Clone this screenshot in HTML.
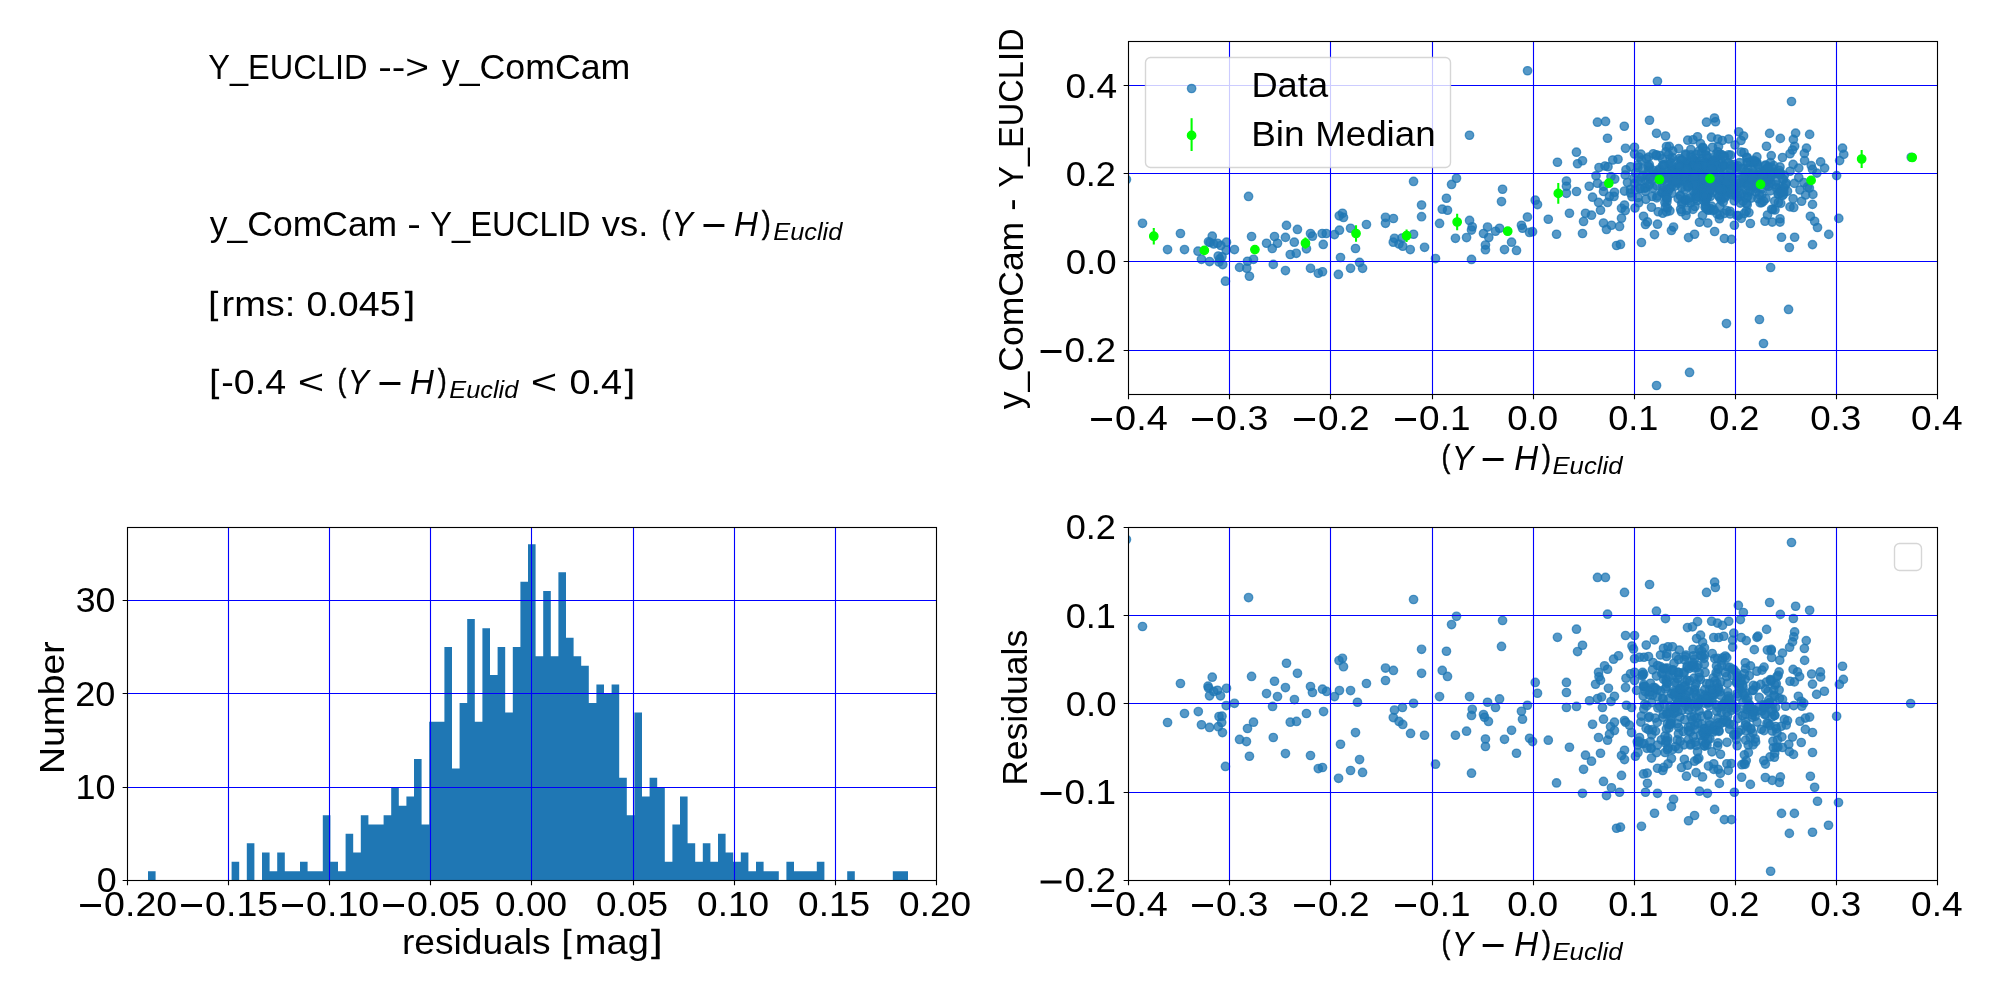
<!DOCTYPE html><html><head><meta charset="utf-8"><title>figure</title><style>html,body{margin:0;padding:0;background:#fff}svg{display:block;will-change:transform}text{font-family:"Liberation Sans",sans-serif;fill:#000}</style></head><body>
<svg width="2000" height="1000" viewBox="0 0 2000 1000">
<rect width="2000" height="1000" fill="#fff"/>
<defs>
<clipPath id="ctr"><rect x="1128.5" y="41.5" width="809" height="353"/></clipPath>
<clipPath id="cbl"><rect x="127.5" y="527.5" width="809" height="353"/></clipPath>
<clipPath id="cbr"><rect x="1128.5" y="527.5" width="809" height="353"/></clipPath>
</defs>
<g clip-path="url(#ctr)" fill="#1f77b4" fill-opacity="0.75" stroke="#1f77b4" stroke-opacity="0.75" stroke-width="1.39">
<circle cx="1126.45" cy="179.5" r="4.17"/><circle cx="1142.5" cy="223.3" r="4.17"/><circle cx="1180.45" cy="233.5" r="4.17"/><circle cx="1167.55" cy="249.55" r="4.17"/><circle cx="1184.5" cy="249.55" r="4.17"/><circle cx="1198" cy="251.2" r="4.17"/><circle cx="1201.45" cy="259.3" r="4.17"/><circle cx="1209.55" cy="261.55" r="4.17"/><circle cx="1212.25" cy="236.2" r="4.17"/><circle cx="1208.5" cy="241.75" r="4.17"/><circle cx="1210" cy="242.5" r="4.17"/><circle cx="1213.75" cy="244" r="4.17"/><circle cx="1217.5" cy="243.25" r="4.17"/><circle cx="1220.8" cy="245.5" r="4.17"/><circle cx="1226.5" cy="242.2" r="4.17"/><circle cx="1226.2" cy="250.3" r="4.17"/><circle cx="1218.25" cy="256" r="4.17"/><circle cx="1222" cy="256.75" r="4.17"/><circle cx="1219.75" cy="259" r="4.17"/><circle cx="1219" cy="262" r="4.17"/><circle cx="1222.75" cy="264.55" r="4.17"/><circle cx="1225.45" cy="281.2" r="4.17"/><circle cx="1234.45" cy="249.55" r="4.17"/><circle cx="1239.55" cy="267.4" r="4.17"/><circle cx="1246.75" cy="268.3" r="4.17"/><circle cx="1247.5" cy="261.25" r="4.17"/><circle cx="1253.5" cy="259.3" r="4.17"/><circle cx="1249.45" cy="276.25" r="4.17"/><circle cx="1248.55" cy="196.45" r="4.17"/><circle cx="1251.55" cy="236.5" r="4.17"/><circle cx="1266.55" cy="243.25" r="4.17"/><circle cx="1272.25" cy="248.5" r="4.17"/><circle cx="1274.5" cy="236.5" r="4.17"/><circle cx="1277.5" cy="243.25" r="4.17"/><circle cx="1273.3" cy="264.4" r="4.17"/><circle cx="1285.45" cy="237.4" r="4.17"/><circle cx="1286.5" cy="225.4" r="4.17"/><circle cx="1285.45" cy="270.55" r="4.17"/><circle cx="1290.25" cy="254.5" r="4.17"/><circle cx="1294.3" cy="242.2" r="4.17"/><circle cx="1296.25" cy="253.3" r="4.17"/><circle cx="1297.45" cy="229.45" r="4.17"/><circle cx="1306.45" cy="248.8" r="4.17"/><circle cx="1310.5" cy="233.5" r="4.17"/><circle cx="1312.45" cy="236.2" r="4.17"/><circle cx="1310.5" cy="268.3" r="4.17"/><circle cx="1318.3" cy="273.25" r="4.17"/><circle cx="1322.5" cy="271.75" r="4.17"/><circle cx="1322.2" cy="233.5" r="4.17"/><circle cx="1326.25" cy="233.5" r="4.17"/><circle cx="1323.25" cy="244.45" r="4.17"/><circle cx="1334.5" cy="234.55" r="4.17"/><circle cx="1339.45" cy="230.2" r="4.17"/><circle cx="1339.3" cy="215.8" r="4.17"/><circle cx="1342.45" cy="213.25" r="4.17"/><circle cx="1343.5" cy="217.45" r="4.17"/><circle cx="1340.5" cy="257.5" r="4.17"/><circle cx="1338.4" cy="274.45" r="4.17"/><circle cx="1350.55" cy="228.25" r="4.17"/><circle cx="1350.55" cy="268.3" r="4.17"/><circle cx="1355.5" cy="248.5" r="4.17"/><circle cx="1359.55" cy="262.45" r="4.17"/><circle cx="1362.55" cy="268.3" r="4.17"/><circle cx="1366.45" cy="224.5" r="4.17"/><circle cx="1385.5" cy="217.3" r="4.17"/><circle cx="1385.5" cy="223.3" r="4.17"/><circle cx="1393.45" cy="218.5" r="4.17"/><circle cx="1394.5" cy="238.3" r="4.17"/><circle cx="1393.3" cy="242.2" r="4.17"/><circle cx="1399" cy="244" r="4.17"/><circle cx="1402.75" cy="246.25" r="4.17"/><circle cx="1402" cy="238" r="4.17"/><circle cx="1410.25" cy="249.55" r="4.17"/><circle cx="1413.55" cy="234.25" r="4.17"/><circle cx="1413.55" cy="181.45" r="4.17"/><circle cx="1421.55" cy="205" r="4.17"/><circle cx="1421.55" cy="216.7" r="4.17"/><circle cx="1424.55" cy="247.3" r="4.17"/><circle cx="1435.5" cy="258.55" r="4.17"/><circle cx="1439.55" cy="223.45" r="4.17"/><circle cx="1442.25" cy="209.2" r="4.17"/><circle cx="1447.5" cy="210.25" r="4.17"/><circle cx="1446.45" cy="198.25" r="4.17"/><circle cx="1451.55" cy="184.45" r="4.17"/><circle cx="1456.5" cy="178.3" r="4.17"/><circle cx="1455.45" cy="238.3" r="4.17"/><circle cx="1466.55" cy="237.55" r="4.17"/><circle cx="1469.55" cy="220.45" r="4.17"/><circle cx="1472.25" cy="226.75" r="4.17"/><circle cx="1471.5" cy="230.05" r="4.17"/><circle cx="1471.5" cy="259.45" r="4.17"/><circle cx="1483.5" cy="233.5" r="4.17"/><circle cx="1487.55" cy="227.05" r="4.17"/><circle cx="1488.75" cy="237.55" r="4.17"/><circle cx="1485.45" cy="245.05" r="4.17"/><circle cx="1485.45" cy="249.7" r="4.17"/><circle cx="1495.5" cy="231.25" r="4.17"/><circle cx="1499.55" cy="228.25" r="4.17"/><circle cx="1501.5" cy="201.55" r="4.17"/><circle cx="1502.55" cy="189.25" r="4.17"/><circle cx="1504.5" cy="249.55" r="4.17"/><circle cx="1511.55" cy="242.2" r="4.17"/><circle cx="1516.5" cy="250.45" r="4.17"/><circle cx="1521.45" cy="225.25" r="4.17"/><circle cx="1522.5" cy="228.25" r="4.17"/><circle cx="1527.45" cy="217" r="4.17"/><circle cx="1529.55" cy="232.45" r="4.17"/><circle cx="1532.55" cy="231.7" r="4.17"/><circle cx="1535.25" cy="200.2" r="4.17"/><circle cx="1537.5" cy="204.55" r="4.17"/><circle cx="1548.3" cy="219.25" r="4.17"/><circle cx="1556.55" cy="234.25" r="4.17"/><circle cx="1566.45" cy="181" r="4.17"/><circle cx="1566.45" cy="186.25" r="4.17"/><circle cx="1566.45" cy="193.3" r="4.17"/><circle cx="1569.45" cy="213.25" r="4.17"/><circle cx="1576.5" cy="191.5" r="4.17"/><circle cx="1582.5" cy="233.5" r="4.17"/><circle cx="1583.55" cy="221.5" r="4.17"/><circle cx="1585.5" cy="213.25" r="4.17"/><circle cx="1591.5" cy="215.2" r="4.17"/><circle cx="1589.25" cy="186.25" r="4.17"/><circle cx="1592.55" cy="197.2" r="4.17"/><circle cx="1598.55" cy="202.45" r="4.17"/><circle cx="1600.5" cy="210.25" r="4.17"/><circle cx="1603.5" cy="223" r="4.17"/><circle cx="1606.5" cy="229.45" r="4.17"/><circle cx="1611.45" cy="225.25" r="4.17"/><circle cx="1619.55" cy="226.45" r="4.17"/><circle cx="1621.5" cy="218.2" r="4.17"/><circle cx="1616.55" cy="245.5" r="4.17"/><circle cx="1620.45" cy="244.45" r="4.17"/><circle cx="1641.45" cy="242.5" r="4.17"/><circle cx="1643.55" cy="216.25" r="4.17"/><circle cx="1645.5" cy="224.5" r="4.17"/><circle cx="1647.45" cy="221.95" r="4.17"/><circle cx="1654.5" cy="234.55" r="4.17"/><circle cx="1657.5" cy="224.2" r="4.17"/><circle cx="1671.45" cy="230.5" r="4.17"/><circle cx="1673.55" cy="227.05" r="4.17"/><circle cx="1688.55" cy="237.55" r="4.17"/><circle cx="1694.55" cy="234.25" r="4.17"/><circle cx="1699.5" cy="222.25" r="4.17"/><circle cx="1702.5" cy="215.5" r="4.17"/><circle cx="1707.75" cy="223" r="4.17"/><circle cx="1708.5" cy="210.25" r="4.17"/><circle cx="1557.45" cy="162.25" r="4.17"/><circle cx="1577.55" cy="163.75" r="4.17"/><circle cx="1582.5" cy="160.75" r="4.17"/><circle cx="1599" cy="167.5" r="4.17"/><circle cx="1605" cy="166" r="4.17"/><circle cx="1608" cy="166.75" r="4.17"/><circle cx="1596" cy="175.75" r="4.17"/><circle cx="1597.5" cy="183.25" r="4.17"/><circle cx="1603.5" cy="186.25" r="4.17"/><circle cx="1603.5" cy="191.5" r="4.17"/><circle cx="1611" cy="176.5" r="4.17"/><circle cx="1614.75" cy="179.05" r="4.17"/><circle cx="1614.45" cy="192.25" r="4.17"/><circle cx="1609.5" cy="196.45" r="4.17"/><circle cx="1614" cy="196.45" r="4.17"/><circle cx="1607.55" cy="202.45" r="4.17"/><circle cx="1621.5" cy="208.3" r="4.17"/><circle cx="1624.5" cy="205" r="4.17"/><circle cx="1625.25" cy="210.55" r="4.17"/><circle cx="1626" cy="169.75" r="4.17"/><circle cx="1625.25" cy="175" r="4.17"/><circle cx="1627.5" cy="182.5" r="4.17"/><circle cx="1624.5" cy="191.05" r="4.17"/><circle cx="1630.5" cy="189.25" r="4.17"/><circle cx="1630.5" cy="193" r="4.17"/><circle cx="1632" cy="196.75" r="4.17"/><circle cx="1630.5" cy="166.75" r="4.17"/><circle cx="1635" cy="208" r="4.17"/><circle cx="1638" cy="197.5" r="4.17"/><circle cx="1638.75" cy="202.75" r="4.17"/><circle cx="1651.5" cy="207.25" r="4.17"/><circle cx="1658.25" cy="211.75" r="4.17"/><circle cx="1662.75" cy="213.25" r="4.17"/><circle cx="1666.5" cy="211.75" r="4.17"/><circle cx="1681.5" cy="211.75" r="4.17"/><circle cx="1686.75" cy="210.25" r="4.17"/><circle cx="1686" cy="215.5" r="4.17"/><circle cx="1695" cy="206.5" r="4.17"/><circle cx="1714.62" cy="231.5" r="4.17"/><circle cx="1719.38" cy="218.75" r="4.17"/><circle cx="1724.38" cy="238.5" r="4.17"/><circle cx="1731.5" cy="239.38" r="4.17"/><circle cx="1734.38" cy="225.25" r="4.17"/><circle cx="1741.25" cy="218.38" r="4.17"/><circle cx="1750.38" cy="223.5" r="4.17"/><circle cx="1765" cy="221.25" r="4.17"/><circle cx="1772.25" cy="222.12" r="4.17"/><circle cx="1780" cy="218.75" r="4.17"/><circle cx="1780" cy="222.12" r="4.17"/><circle cx="1781.5" cy="237.25" r="4.17"/><circle cx="1789.38" cy="247.5" r="4.17"/><circle cx="1794.62" cy="237.25" r="4.17"/><circle cx="1770.62" cy="267.5" r="4.17"/><circle cx="1812.5" cy="244.62" r="4.17"/><circle cx="1828.75" cy="234.38" r="4.17"/><circle cx="1817.5" cy="227.5" r="4.17"/><circle cx="1814.62" cy="221.25" r="4.17"/><circle cx="1810.38" cy="216.25" r="4.17"/><circle cx="1838.75" cy="218.38" r="4.17"/><circle cx="1812.5" cy="204.38" r="4.17"/><circle cx="1801.62" cy="201.25" r="4.17"/><circle cx="1812.88" cy="194.38" r="4.17"/><circle cx="1805.62" cy="195" r="4.17"/><circle cx="1800" cy="190" r="4.17"/><circle cx="1793.75" cy="207.5" r="4.17"/><circle cx="1790" cy="206.88" r="4.17"/><circle cx="1793.12" cy="198.75" r="4.17"/><circle cx="1809.38" cy="188.12" r="4.17"/><circle cx="1794.38" cy="183.38" r="4.17"/><circle cx="1836.62" cy="175.62" r="4.17"/><circle cx="1839.62" cy="160.62" r="4.17"/><circle cx="1816.88" cy="173.12" r="4.17"/><circle cx="1824.62" cy="168.12" r="4.17"/><circle cx="1820.62" cy="161.88" r="4.17"/><circle cx="1811.25" cy="165.62" r="4.17"/><circle cx="1812.5" cy="169.38" r="4.17"/><circle cx="1804.62" cy="160.62" r="4.17"/><circle cx="1798.75" cy="168.12" r="4.17"/><circle cx="1793.12" cy="164.38" r="4.17"/><circle cx="1790" cy="171.25" r="4.17"/><circle cx="1780" cy="166.88" r="4.17"/><circle cx="1782.5" cy="179.38" r="4.17"/><circle cx="1786.25" cy="183.12" r="4.17"/><circle cx="1787.5" cy="191.25" r="4.17"/><circle cx="1782.5" cy="195.62" r="4.17"/><circle cx="1775" cy="210" r="4.17"/><circle cx="1767.5" cy="215" r="4.17"/><circle cx="1746.25" cy="211.25" r="4.17"/><circle cx="1730" cy="211.25" r="4.17"/><circle cx="1720" cy="215" r="4.17"/><circle cx="1712.5" cy="210.62" r="4.17"/><circle cx="1798.75" cy="177.5" r="4.17"/><circle cx="1803.75" cy="182.5" r="4.17"/><circle cx="1807.5" cy="186.88" r="4.17"/><circle cx="1527.55" cy="70.75" r="4.17"/><circle cx="1657.45" cy="81.25" r="4.17"/><circle cx="1469.5" cy="135.25" r="4.17"/><circle cx="1597.45" cy="122.2" r="4.17"/><circle cx="1605.55" cy="121.45" r="4.17"/><circle cx="1624.3" cy="126.25" r="4.17"/><circle cx="1607.5" cy="138.25" r="4.17"/><circle cx="1649.5" cy="120.25" r="4.17"/><circle cx="1656.55" cy="133.3" r="4.17"/><circle cx="1665.55" cy="136" r="4.17"/><circle cx="1706.5" cy="122.2" r="4.17"/><circle cx="1714.45" cy="118" r="4.17"/><circle cx="1715.5" cy="121.75" r="4.17"/><circle cx="1625.5" cy="148.3" r="4.17"/><circle cx="1634.5" cy="147.25" r="4.17"/><circle cx="1576.45" cy="152.2" r="4.17"/><circle cx="1687.75" cy="140.2" r="4.17"/><circle cx="1693" cy="139.75" r="4.17"/><circle cx="1697.5" cy="136.75" r="4.17"/><circle cx="1700.5" cy="143.5" r="4.17"/><circle cx="1702.75" cy="147.25" r="4.17"/><circle cx="1711.45" cy="137.2" r="4.17"/><circle cx="1717.75" cy="139" r="4.17"/><circle cx="1722.25" cy="140.5" r="4.17"/><circle cx="1728.7" cy="139" r="4.17"/><circle cx="1738.75" cy="131.8" r="4.17"/><circle cx="1743.55" cy="136" r="4.17"/><circle cx="1741" cy="140.5" r="4.17"/><circle cx="1712.5" cy="147.25" r="4.17"/><circle cx="1718.5" cy="146.5" r="4.17"/><circle cx="1634.5" cy="154" r="4.17"/><circle cx="1639" cy="157" r="4.17"/><circle cx="1648.75" cy="157" r="4.17"/><circle cx="1660" cy="155.5" r="4.17"/><circle cx="1666" cy="151.75" r="4.17"/><circle cx="1672.75" cy="151" r="4.17"/><circle cx="1685.5" cy="154" r="4.17"/><circle cx="1679.5" cy="158.5" r="4.17"/><circle cx="1735" cy="145" r="4.17"/><circle cx="1744" cy="152.5" r="4.17"/><circle cx="1618" cy="159.25" r="4.17"/><circle cx="1612.75" cy="160" r="4.17"/><circle cx="1791.5" cy="101.5" r="4.17"/><circle cx="1769.62" cy="133.38" r="4.17"/><circle cx="1780.38" cy="138.38" r="4.17"/><circle cx="1795.62" cy="133.12" r="4.17"/><circle cx="1793.38" cy="139.38" r="4.17"/><circle cx="1809.62" cy="134.38" r="4.17"/><circle cx="1766.5" cy="146.25" r="4.17"/><circle cx="1794.62" cy="146.25" r="4.17"/><circle cx="1792.5" cy="150" r="4.17"/><circle cx="1790" cy="153.75" r="4.17"/><circle cx="1806.5" cy="148.12" r="4.17"/><circle cx="1804.38" cy="153.38" r="4.17"/><circle cx="1782.5" cy="157.5" r="4.17"/><circle cx="1771.25" cy="155.62" r="4.17"/><circle cx="1842.5" cy="148.12" r="4.17"/><circle cx="1843.75" cy="154.38" r="4.17"/><circle cx="1756.88" cy="156.88" r="4.17"/><circle cx="1911.25" cy="157.25" r="4.17"/><circle cx="1656.55" cy="385.5" r="4.17"/><circle cx="1689.55" cy="372.45" r="4.17"/><circle cx="1726.45" cy="323.55" r="4.17"/><circle cx="1759.45" cy="319.5" r="4.17"/><circle cx="1788.55" cy="309.45" r="4.17"/><circle cx="1763.5" cy="343.5" r="4.17"/><circle cx="1708.07" cy="187.38" r="4.17"/><circle cx="1691.55" cy="165.97" r="4.17"/><circle cx="1680.72" cy="164.15" r="4.17"/><circle cx="1711.61" cy="206.12" r="4.17"/><circle cx="1678.47" cy="170.83" r="4.17"/><circle cx="1737.39" cy="188.42" r="4.17"/><circle cx="1714.32" cy="165.25" r="4.17"/><circle cx="1706.24" cy="194.52" r="4.17"/><circle cx="1717.41" cy="178.64" r="4.17"/><circle cx="1705.09" cy="184.04" r="4.17"/><circle cx="1649.29" cy="167.44" r="4.17"/><circle cx="1771.65" cy="167.46" r="4.17"/><circle cx="1706.05" cy="197.92" r="4.17"/><circle cx="1672.98" cy="179.99" r="4.17"/><circle cx="1714.63" cy="183.15" r="4.17"/><circle cx="1634.5" cy="183.37" r="4.17"/><circle cx="1759.56" cy="184.15" r="4.17"/><circle cx="1753.74" cy="160.41" r="4.17"/><circle cx="1712.47" cy="192.38" r="4.17"/><circle cx="1696.67" cy="194.29" r="4.17"/><circle cx="1704.01" cy="194.01" r="4.17"/><circle cx="1720.19" cy="173.66" r="4.17"/><circle cx="1715.64" cy="160.63" r="4.17"/><circle cx="1673.24" cy="178.47" r="4.17"/><circle cx="1761.93" cy="202.61" r="4.17"/><circle cx="1680.21" cy="180.25" r="4.17"/><circle cx="1783.42" cy="194.41" r="4.17"/><circle cx="1688.37" cy="175.37" r="4.17"/><circle cx="1692.99" cy="209.42" r="4.17"/><circle cx="1682.32" cy="176.53" r="4.17"/><circle cx="1729.16" cy="179.83" r="4.17"/><circle cx="1696.16" cy="161.95" r="4.17"/><circle cx="1707.31" cy="174.02" r="4.17"/><circle cx="1777.97" cy="193.76" r="4.17"/><circle cx="1706.55" cy="194.03" r="4.17"/><circle cx="1687.61" cy="200.94" r="4.17"/><circle cx="1707.68" cy="192.5" r="4.17"/><circle cx="1689.73" cy="165.8" r="4.17"/><circle cx="1658.1" cy="170.77" r="4.17"/><circle cx="1720.32" cy="190.87" r="4.17"/><circle cx="1697.42" cy="178.29" r="4.17"/><circle cx="1750.15" cy="191.36" r="4.17"/><circle cx="1645.98" cy="180.57" r="4.17"/><circle cx="1710.12" cy="163.02" r="4.17"/><circle cx="1723.59" cy="166.56" r="4.17"/><circle cx="1766.32" cy="185.47" r="4.17"/><circle cx="1713.36" cy="171.36" r="4.17"/><circle cx="1640.12" cy="188.53" r="4.17"/><circle cx="1657.27" cy="196.02" r="4.17"/><circle cx="1715.86" cy="154.34" r="4.17"/><circle cx="1704.05" cy="177.07" r="4.17"/><circle cx="1698.41" cy="164.45" r="4.17"/><circle cx="1773.92" cy="172.23" r="4.17"/><circle cx="1704.93" cy="167.72" r="4.17"/><circle cx="1670.44" cy="159" r="4.17"/><circle cx="1783.42" cy="179.23" r="4.17"/><circle cx="1765.96" cy="182.24" r="4.17"/><circle cx="1666.34" cy="176.12" r="4.17"/><circle cx="1674.39" cy="182.14" r="4.17"/><circle cx="1685.48" cy="176.6" r="4.17"/><circle cx="1644.75" cy="188.07" r="4.17"/><circle cx="1695.49" cy="170.62" r="4.17"/><circle cx="1706.59" cy="183.29" r="4.17"/><circle cx="1662.86" cy="190.19" r="4.17"/><circle cx="1675.64" cy="179.43" r="4.17"/><circle cx="1641.5" cy="160.11" r="4.17"/><circle cx="1725.5" cy="181.39" r="4.17"/><circle cx="1681.53" cy="172.86" r="4.17"/><circle cx="1745.8" cy="176.57" r="4.17"/><circle cx="1698.91" cy="182.4" r="4.17"/><circle cx="1778.59" cy="194.25" r="4.17"/><circle cx="1730.96" cy="171.86" r="4.17"/><circle cx="1765.99" cy="179.47" r="4.17"/><circle cx="1740.51" cy="196.07" r="4.17"/><circle cx="1757.87" cy="198.58" r="4.17"/><circle cx="1680.66" cy="209.27" r="4.17"/><circle cx="1737.64" cy="197.73" r="4.17"/><circle cx="1757.01" cy="163.73" r="4.17"/><circle cx="1707.26" cy="197.12" r="4.17"/><circle cx="1723.56" cy="182.8" r="4.17"/><circle cx="1693.25" cy="182.69" r="4.17"/><circle cx="1656.37" cy="154.76" r="4.17"/><circle cx="1698" cy="164.51" r="4.17"/><circle cx="1704.32" cy="189.32" r="4.17"/><circle cx="1648.64" cy="170.15" r="4.17"/><circle cx="1648.06" cy="166.04" r="4.17"/><circle cx="1719.72" cy="167.91" r="4.17"/><circle cx="1729.36" cy="188.12" r="4.17"/><circle cx="1761.27" cy="180.39" r="4.17"/><circle cx="1707.16" cy="155.9" r="4.17"/><circle cx="1680.39" cy="195.38" r="4.17"/><circle cx="1703.05" cy="183.46" r="4.17"/><circle cx="1690.56" cy="202.78" r="4.17"/><circle cx="1666.48" cy="146.56" r="4.17"/><circle cx="1637.65" cy="165.07" r="4.17"/><circle cx="1775.84" cy="184.84" r="4.17"/><circle cx="1710.88" cy="181.04" r="4.17"/><circle cx="1710.3" cy="196.5" r="4.17"/><circle cx="1741.15" cy="185.88" r="4.17"/><circle cx="1645.43" cy="191.2" r="4.17"/><circle cx="1666.95" cy="201.69" r="4.17"/><circle cx="1707.56" cy="158.16" r="4.17"/><circle cx="1680.18" cy="195.89" r="4.17"/><circle cx="1723.02" cy="180.9" r="4.17"/><circle cx="1712.99" cy="162.62" r="4.17"/><circle cx="1691.84" cy="178.79" r="4.17"/><circle cx="1779.29" cy="188.02" r="4.17"/><circle cx="1707.67" cy="209.52" r="4.17"/><circle cx="1674.69" cy="174.99" r="4.17"/><circle cx="1765.86" cy="198.5" r="4.17"/><circle cx="1748.13" cy="183.98" r="4.17"/><circle cx="1720.93" cy="177.46" r="4.17"/><circle cx="1695.78" cy="182.98" r="4.17"/><circle cx="1704.49" cy="171.57" r="4.17"/><circle cx="1669.9" cy="210.85" r="4.17"/><circle cx="1738.4" cy="183.22" r="4.17"/><circle cx="1687.23" cy="162.04" r="4.17"/><circle cx="1703.99" cy="197.73" r="4.17"/><circle cx="1684.45" cy="177.91" r="4.17"/><circle cx="1694.74" cy="183.97" r="4.17"/><circle cx="1656.74" cy="197.92" r="4.17"/><circle cx="1661.76" cy="192.39" r="4.17"/><circle cx="1671.91" cy="185.45" r="4.17"/><circle cx="1707.88" cy="164.11" r="4.17"/><circle cx="1692.51" cy="178.35" r="4.17"/><circle cx="1645.3" cy="187.74" r="4.17"/><circle cx="1772.88" cy="209.44" r="4.17"/><circle cx="1723.56" cy="191.96" r="4.17"/><circle cx="1672.42" cy="157.64" r="4.17"/><circle cx="1710.5" cy="208.62" r="4.17"/><circle cx="1765.58" cy="165.04" r="4.17"/><circle cx="1656.68" cy="172.92" r="4.17"/><circle cx="1725.54" cy="178.3" r="4.17"/><circle cx="1720.87" cy="187.34" r="4.17"/><circle cx="1690.07" cy="181.28" r="4.17"/><circle cx="1720.4" cy="180.49" r="4.17"/><circle cx="1738.21" cy="215.68" r="4.17"/><circle cx="1743.52" cy="183" r="4.17"/><circle cx="1759.28" cy="194.71" r="4.17"/><circle cx="1699" cy="151.22" r="4.17"/><circle cx="1685.72" cy="169.78" r="4.17"/><circle cx="1721.02" cy="167.97" r="4.17"/><circle cx="1637.77" cy="180.99" r="4.17"/><circle cx="1697.39" cy="161.27" r="4.17"/><circle cx="1714.98" cy="161.28" r="4.17"/><circle cx="1774.73" cy="201.13" r="4.17"/><circle cx="1773.09" cy="173.47" r="4.17"/><circle cx="1738.87" cy="179.62" r="4.17"/><circle cx="1684.67" cy="175.9" r="4.17"/><circle cx="1755.66" cy="178.56" r="4.17"/><circle cx="1720.99" cy="200.03" r="4.17"/><circle cx="1718.52" cy="189.06" r="4.17"/><circle cx="1685.38" cy="200.53" r="4.17"/><circle cx="1720.62" cy="160.16" r="4.17"/><circle cx="1652.15" cy="196.5" r="4.17"/><circle cx="1690.26" cy="161.72" r="4.17"/><circle cx="1717.83" cy="151.92" r="4.17"/><circle cx="1685.03" cy="199.71" r="4.17"/><circle cx="1728.23" cy="163.21" r="4.17"/><circle cx="1677.9" cy="173.74" r="4.17"/><circle cx="1705.03" cy="172.35" r="4.17"/><circle cx="1658.36" cy="176.52" r="4.17"/><circle cx="1646.39" cy="158.79" r="4.17"/><circle cx="1705.11" cy="197.89" r="4.17"/><circle cx="1669" cy="164.41" r="4.17"/><circle cx="1759.21" cy="172.67" r="4.17"/><circle cx="1731.19" cy="177.91" r="4.17"/><circle cx="1662.76" cy="192.58" r="4.17"/><circle cx="1698.7" cy="192.86" r="4.17"/><circle cx="1705.16" cy="162.46" r="4.17"/><circle cx="1701.88" cy="182.94" r="4.17"/><circle cx="1765.51" cy="165.69" r="4.17"/><circle cx="1705.64" cy="151.01" r="4.17"/><circle cx="1747.09" cy="162.53" r="4.17"/><circle cx="1642.72" cy="168.62" r="4.17"/><circle cx="1640.23" cy="188.83" r="4.17"/><circle cx="1659.56" cy="169.01" r="4.17"/><circle cx="1743" cy="168.4" r="4.17"/><circle cx="1733.97" cy="164.52" r="4.17"/><circle cx="1722.64" cy="181.44" r="4.17"/><circle cx="1717.6" cy="182.89" r="4.17"/><circle cx="1757.22" cy="164.7" r="4.17"/><circle cx="1739.6" cy="162.64" r="4.17"/><circle cx="1770.42" cy="162.6" r="4.17"/><circle cx="1690.88" cy="154.89" r="4.17"/><circle cx="1757.23" cy="174.77" r="4.17"/><circle cx="1684.38" cy="181.44" r="4.17"/><circle cx="1702.96" cy="180.31" r="4.17"/><circle cx="1640.69" cy="180.81" r="4.17"/><circle cx="1705.68" cy="205.23" r="4.17"/><circle cx="1662.02" cy="180.83" r="4.17"/><circle cx="1671.54" cy="168.64" r="4.17"/><circle cx="1704.48" cy="163.22" r="4.17"/><circle cx="1744.37" cy="180.13" r="4.17"/><circle cx="1723" cy="178.71" r="4.17"/><circle cx="1664.36" cy="164.94" r="4.17"/><circle cx="1693.76" cy="172.12" r="4.17"/><circle cx="1722.03" cy="181.92" r="4.17"/><circle cx="1713.49" cy="184.72" r="4.17"/><circle cx="1698.52" cy="174.36" r="4.17"/><circle cx="1685.58" cy="164.42" r="4.17"/><circle cx="1691.82" cy="172.05" r="4.17"/><circle cx="1713.5" cy="160.33" r="4.17"/><circle cx="1722.14" cy="184.58" r="4.17"/><circle cx="1699.51" cy="174.09" r="4.17"/><circle cx="1741.14" cy="152.04" r="4.17"/><circle cx="1735.63" cy="186.37" r="4.17"/><circle cx="1725" cy="188.9" r="4.17"/><circle cx="1668.78" cy="177.33" r="4.17"/><circle cx="1746.22" cy="189.75" r="4.17"/><circle cx="1720.4" cy="154.74" r="4.17"/><circle cx="1740.27" cy="203.05" r="4.17"/><circle cx="1768.58" cy="186.21" r="4.17"/><circle cx="1730.63" cy="155.14" r="4.17"/><circle cx="1784.36" cy="175.32" r="4.17"/><circle cx="1724.26" cy="213.46" r="4.17"/><circle cx="1693.51" cy="159.3" r="4.17"/><circle cx="1666.33" cy="189.66" r="4.17"/><circle cx="1731.74" cy="183.98" r="4.17"/><circle cx="1767.69" cy="168.1" r="4.17"/><circle cx="1704.64" cy="195.16" r="4.17"/><circle cx="1743.05" cy="201.28" r="4.17"/><circle cx="1731.82" cy="176.43" r="4.17"/><circle cx="1729.73" cy="163.95" r="4.17"/><circle cx="1704.69" cy="187.55" r="4.17"/><circle cx="1672.01" cy="166.44" r="4.17"/><circle cx="1761.84" cy="188.86" r="4.17"/><circle cx="1671.94" cy="181.73" r="4.17"/><circle cx="1700.53" cy="191.78" r="4.17"/><circle cx="1748.93" cy="212.61" r="4.17"/><circle cx="1776.1" cy="187.63" r="4.17"/><circle cx="1726.12" cy="196.17" r="4.17"/><circle cx="1675.64" cy="181.28" r="4.17"/><circle cx="1698.44" cy="181.13" r="4.17"/><circle cx="1719.91" cy="206.18" r="4.17"/><circle cx="1706.18" cy="208.45" r="4.17"/><circle cx="1650" cy="178.65" r="4.17"/><circle cx="1696.11" cy="196.16" r="4.17"/><circle cx="1653.09" cy="188.06" r="4.17"/><circle cx="1668.48" cy="154.6" r="4.17"/><circle cx="1770.31" cy="190.89" r="4.17"/><circle cx="1737.59" cy="173.44" r="4.17"/><circle cx="1769.74" cy="177.68" r="4.17"/><circle cx="1773.79" cy="165.59" r="4.17"/><circle cx="1656.75" cy="185.68" r="4.17"/><circle cx="1665.86" cy="194.16" r="4.17"/><circle cx="1723.61" cy="165.39" r="4.17"/><circle cx="1712.37" cy="175.68" r="4.17"/><circle cx="1762.95" cy="170.61" r="4.17"/><circle cx="1681.65" cy="203.8" r="4.17"/><circle cx="1711.79" cy="185.94" r="4.17"/><circle cx="1649.42" cy="184.1" r="4.17"/><circle cx="1735.09" cy="167.08" r="4.17"/><circle cx="1747.93" cy="168.35" r="4.17"/><circle cx="1699.52" cy="185.83" r="4.17"/><circle cx="1745.15" cy="175.97" r="4.17"/><circle cx="1737.92" cy="165.98" r="4.17"/><circle cx="1686.3" cy="163.56" r="4.17"/><circle cx="1775.91" cy="181.51" r="4.17"/><circle cx="1663.64" cy="175.66" r="4.17"/><circle cx="1694.7" cy="194.61" r="4.17"/><circle cx="1765.34" cy="179.99" r="4.17"/><circle cx="1693.98" cy="175.4" r="4.17"/><circle cx="1780.72" cy="190.9" r="4.17"/><circle cx="1748.28" cy="172.85" r="4.17"/><circle cx="1741.96" cy="194.32" r="4.17"/><circle cx="1696.35" cy="189.81" r="4.17"/><circle cx="1748.95" cy="175.86" r="4.17"/><circle cx="1663.52" cy="176.06" r="4.17"/><circle cx="1671.73" cy="175.85" r="4.17"/><circle cx="1723.2" cy="202.01" r="4.17"/><circle cx="1635.59" cy="172.97" r="4.17"/><circle cx="1728.55" cy="154.81" r="4.17"/><circle cx="1725.84" cy="180.03" r="4.17"/><circle cx="1689.18" cy="180.69" r="4.17"/><circle cx="1675.61" cy="170.98" r="4.17"/><circle cx="1667.41" cy="207.97" r="4.17"/><circle cx="1704.63" cy="180.76" r="4.17"/><circle cx="1690.53" cy="183.66" r="4.17"/><circle cx="1681.89" cy="180.49" r="4.17"/><circle cx="1642.92" cy="175.27" r="4.17"/><circle cx="1693.68" cy="191.58" r="4.17"/><circle cx="1750.49" cy="161.95" r="4.17"/><circle cx="1695.57" cy="198.53" r="4.17"/><circle cx="1724.19" cy="184.2" r="4.17"/><circle cx="1712.96" cy="172.64" r="4.17"/><circle cx="1667.79" cy="172.48" r="4.17"/><circle cx="1747.81" cy="192.91" r="4.17"/><circle cx="1753.03" cy="176.72" r="4.17"/><circle cx="1668.06" cy="191.71" r="4.17"/><circle cx="1685.79" cy="155.04" r="4.17"/><circle cx="1669.07" cy="188.69" r="4.17"/><circle cx="1726.72" cy="210.56" r="4.17"/><circle cx="1696.02" cy="154.4" r="4.17"/><circle cx="1662.63" cy="165.45" r="4.17"/><circle cx="1634.93" cy="189.84" r="4.17"/><circle cx="1669.29" cy="146.41" r="4.17"/><circle cx="1749.82" cy="179.99" r="4.17"/><circle cx="1729.41" cy="183.9" r="4.17"/><circle cx="1745.9" cy="182.68" r="4.17"/><circle cx="1782.17" cy="189.65" r="4.17"/><circle cx="1731.52" cy="189.38" r="4.17"/><circle cx="1692.44" cy="185.74" r="4.17"/><circle cx="1714.26" cy="160.2" r="4.17"/><circle cx="1702.62" cy="169.07" r="4.17"/><circle cx="1713.53" cy="170.46" r="4.17"/><circle cx="1741.1" cy="168.96" r="4.17"/><circle cx="1705.69" cy="199.62" r="4.17"/><circle cx="1680.13" cy="166.88" r="4.17"/><circle cx="1755.06" cy="161.33" r="4.17"/><circle cx="1678.94" cy="181.47" r="4.17"/><circle cx="1649.28" cy="164.77" r="4.17"/><circle cx="1716.89" cy="178.66" r="4.17"/><circle cx="1755.91" cy="192.01" r="4.17"/><circle cx="1703.28" cy="166.03" r="4.17"/><circle cx="1745.87" cy="171.58" r="4.17"/><circle cx="1637.85" cy="167.56" r="4.17"/><circle cx="1777.55" cy="173.37" r="4.17"/><circle cx="1764.29" cy="171.17" r="4.17"/><circle cx="1754.03" cy="172.98" r="4.17"/><circle cx="1702.91" cy="187.87" r="4.17"/><circle cx="1780.63" cy="173.2" r="4.17"/><circle cx="1708.92" cy="183.97" r="4.17"/><circle cx="1756.78" cy="162.18" r="4.17"/><circle cx="1754.37" cy="186.56" r="4.17"/><circle cx="1717.24" cy="214.17" r="4.17"/><circle cx="1652.37" cy="180" r="4.17"/><circle cx="1735.61" cy="195.39" r="4.17"/><circle cx="1681.76" cy="187.53" r="4.17"/><circle cx="1691.32" cy="184.17" r="4.17"/><circle cx="1700.07" cy="161.45" r="4.17"/><circle cx="1706.73" cy="197.79" r="4.17"/><circle cx="1649.98" cy="177.66" r="4.17"/><circle cx="1747.89" cy="162.74" r="4.17"/><circle cx="1718.96" cy="162.92" r="4.17"/><circle cx="1752.41" cy="184.18" r="4.17"/><circle cx="1714.13" cy="209.86" r="4.17"/><circle cx="1705.06" cy="207.35" r="4.17"/><circle cx="1719.23" cy="169.89" r="4.17"/><circle cx="1724.63" cy="195.25" r="4.17"/><circle cx="1710.15" cy="190.78" r="4.17"/><circle cx="1762" cy="194.58" r="4.17"/><circle cx="1716.89" cy="183.23" r="4.17"/><circle cx="1770.18" cy="173.77" r="4.17"/><circle cx="1665.61" cy="178.61" r="4.17"/><circle cx="1779.51" cy="170.49" r="4.17"/><circle cx="1702.19" cy="158.6" r="4.17"/><circle cx="1686.48" cy="198.76" r="4.17"/><circle cx="1779.52" cy="174.31" r="4.17"/><circle cx="1732.38" cy="194.85" r="4.17"/><circle cx="1669.32" cy="188.39" r="4.17"/><circle cx="1706.09" cy="172.35" r="4.17"/><circle cx="1678.47" cy="183.21" r="4.17"/><circle cx="1709.79" cy="171.82" r="4.17"/><circle cx="1682.44" cy="202.04" r="4.17"/><circle cx="1720.83" cy="197.93" r="4.17"/><circle cx="1780.11" cy="192.6" r="4.17"/><circle cx="1756.5" cy="176.27" r="4.17"/><circle cx="1747.86" cy="196.22" r="4.17"/><circle cx="1752.19" cy="180.72" r="4.17"/><circle cx="1735.31" cy="193.75" r="4.17"/><circle cx="1703.33" cy="200.49" r="4.17"/><circle cx="1645.96" cy="199.26" r="4.17"/><circle cx="1694.28" cy="166" r="4.17"/><circle cx="1730.43" cy="165.6" r="4.17"/><circle cx="1653.23" cy="153.79" r="4.17"/><circle cx="1706.4" cy="190.94" r="4.17"/><circle cx="1769.38" cy="179.45" r="4.17"/><circle cx="1770.87" cy="182.32" r="4.17"/><circle cx="1702.4" cy="192.32" r="4.17"/><circle cx="1771.5" cy="175.85" r="4.17"/><circle cx="1693.37" cy="179.11" r="4.17"/><circle cx="1712.97" cy="165.79" r="4.17"/><circle cx="1769.68" cy="174.79" r="4.17"/><circle cx="1735.75" cy="167.14" r="4.17"/><circle cx="1729.53" cy="189.05" r="4.17"/><circle cx="1730.26" cy="213.98" r="4.17"/><circle cx="1765.55" cy="170.08" r="4.17"/><circle cx="1685.07" cy="189.85" r="4.17"/><circle cx="1711.67" cy="182.89" r="4.17"/><circle cx="1690.83" cy="149.45" r="4.17"/><circle cx="1730.31" cy="168.93" r="4.17"/><circle cx="1665.07" cy="178.05" r="4.17"/><circle cx="1724.36" cy="156.22" r="4.17"/><circle cx="1747.08" cy="157.31" r="4.17"/><circle cx="1725.95" cy="176.24" r="4.17"/><circle cx="1704.41" cy="192.24" r="4.17"/><circle cx="1715.46" cy="164.48" r="4.17"/><circle cx="1743" cy="177.57" r="4.17"/><circle cx="1757.92" cy="181.21" r="4.17"/><circle cx="1690.2" cy="197.87" r="4.17"/><circle cx="1686.96" cy="167.74" r="4.17"/><circle cx="1692.05" cy="157.16" r="4.17"/><circle cx="1655.6" cy="174.71" r="4.17"/><circle cx="1768.26" cy="167.21" r="4.17"/><circle cx="1666.59" cy="197.93" r="4.17"/><circle cx="1759.88" cy="175.27" r="4.17"/><circle cx="1640.93" cy="154.1" r="4.17"/><circle cx="1752.99" cy="170.66" r="4.17"/><circle cx="1736.88" cy="215.63" r="4.17"/><circle cx="1760.15" cy="202.84" r="4.17"/><circle cx="1663.22" cy="164.84" r="4.17"/><circle cx="1701.42" cy="153.17" r="4.17"/><circle cx="1641.59" cy="177.15" r="4.17"/><circle cx="1694.37" cy="184.99" r="4.17"/><circle cx="1724.29" cy="178.15" r="4.17"/><circle cx="1707.99" cy="169.14" r="4.17"/><circle cx="1715.95" cy="185.97" r="4.17"/><circle cx="1653.29" cy="170.46" r="4.17"/><circle cx="1755.56" cy="188.28" r="4.17"/><circle cx="1755.03" cy="185.98" r="4.17"/><circle cx="1695.52" cy="172.26" r="4.17"/><circle cx="1695.25" cy="172.09" r="4.17"/><circle cx="1752.69" cy="174.83" r="4.17"/><circle cx="1681.53" cy="160.36" r="4.17"/><circle cx="1705.02" cy="165.91" r="4.17"/><circle cx="1697.15" cy="200.75" r="4.17"/><circle cx="1729.96" cy="191.09" r="4.17"/><circle cx="1729.37" cy="183.07" r="4.17"/><circle cx="1700.36" cy="176.46" r="4.17"/><circle cx="1753.55" cy="162.48" r="4.17"/><circle cx="1663.08" cy="173.2" r="4.17"/><circle cx="1667.38" cy="184.88" r="4.17"/><circle cx="1664.93" cy="202.56" r="4.17"/><circle cx="1705.61" cy="201.06" r="4.17"/><circle cx="1746.87" cy="157.92" r="4.17"/><circle cx="1727.11" cy="182.07" r="4.17"/><circle cx="1785.79" cy="184.51" r="4.17"/><circle cx="1729.28" cy="193.11" r="4.17"/><circle cx="1671.24" cy="162.94" r="4.17"/><circle cx="1711.15" cy="164.95" r="4.17"/><circle cx="1704.31" cy="183.73" r="4.17"/><circle cx="1700.69" cy="179.04" r="4.17"/><circle cx="1734.24" cy="200.84" r="4.17"/><circle cx="1678.57" cy="167.22" r="4.17"/><circle cx="1740.19" cy="182.82" r="4.17"/><circle cx="1647.07" cy="175.29" r="4.17"/><circle cx="1709.89" cy="191.07" r="4.17"/><circle cx="1672.4" cy="177.49" r="4.17"/><circle cx="1687.73" cy="185.95" r="4.17"/><circle cx="1685.54" cy="167.45" r="4.17"/><circle cx="1704.34" cy="181.91" r="4.17"/><circle cx="1703.07" cy="148.2" r="4.17"/><circle cx="1699.16" cy="166.61" r="4.17"/><circle cx="1675.14" cy="186.09" r="4.17"/><circle cx="1746.44" cy="198.14" r="4.17"/><circle cx="1678.22" cy="198.63" r="4.17"/><circle cx="1778.42" cy="202.46" r="4.17"/><circle cx="1697.55" cy="196.85" r="4.17"/><circle cx="1676.17" cy="175.36" r="4.17"/><circle cx="1706.77" cy="197.99" r="4.17"/><circle cx="1767.4" cy="180.55" r="4.17"/><circle cx="1696.64" cy="167.05" r="4.17"/><circle cx="1732.14" cy="177.54" r="4.17"/><circle cx="1744.35" cy="213.53" r="4.17"/><circle cx="1706.06" cy="155.05" r="4.17"/><circle cx="1656.35" cy="155.75" r="4.17"/><circle cx="1721.6" cy="154.64" r="4.17"/><circle cx="1747.22" cy="204.69" r="4.17"/><circle cx="1686.41" cy="169.83" r="4.17"/><circle cx="1687.76" cy="187.12" r="4.17"/><circle cx="1746.4" cy="203.28" r="4.17"/><circle cx="1780.75" cy="203.34" r="4.17"/><circle cx="1726.84" cy="175.1" r="4.17"/><circle cx="1762.68" cy="175.52" r="4.17"/><circle cx="1747.96" cy="185.95" r="4.17"/><circle cx="1763.6" cy="201.13" r="4.17"/><circle cx="1667.46" cy="173.78" r="4.17"/><circle cx="1648.95" cy="185.58" r="4.17"/><circle cx="1779.53" cy="173.27" r="4.17"/><circle cx="1680.91" cy="159.81" r="4.17"/><circle cx="1722.26" cy="189.66" r="4.17"/><circle cx="1665.7" cy="196.23" r="4.17"/><circle cx="1678.76" cy="165.39" r="4.17"/><circle cx="1718.72" cy="195.87" r="4.17"/><circle cx="1669.97" cy="187.95" r="4.17"/><circle cx="1665.49" cy="206.92" r="4.17"/><circle cx="1704.86" cy="179.72" r="4.17"/><circle cx="1751.3" cy="198.09" r="4.17"/><circle cx="1784.02" cy="187.92" r="4.17"/><circle cx="1671.98" cy="172.32" r="4.17"/><circle cx="1738.58" cy="192.46" r="4.17"/><circle cx="1771.61" cy="209.3" r="4.17"/><circle cx="1717.89" cy="155.26" r="4.17"/><circle cx="1781.91" cy="192.54" r="4.17"/><circle cx="1701.86" cy="178.4" r="4.17"/><circle cx="1713.11" cy="185.15" r="4.17"/><circle cx="1676.16" cy="181.41" r="4.17"/><circle cx="1723.51" cy="165.67" r="4.17"/><circle cx="1719.22" cy="197.12" r="4.17"/><circle cx="1704.54" cy="195.91" r="4.17"/><circle cx="1671.81" cy="193.2" r="4.17"/><circle cx="1662.64" cy="185.97" r="4.17"/><circle cx="1723.46" cy="156.57" r="4.17"/><circle cx="1709.71" cy="178.04" r="4.17"/><circle cx="1783.82" cy="191.76" r="4.17"/><circle cx="1633.93" cy="178.21" r="4.17"/><circle cx="1724.73" cy="197.89" r="4.17"/><circle cx="1732.96" cy="188.96" r="4.17"/><circle cx="1662.31" cy="158.79" r="4.17"/><circle cx="1711.69" cy="169.22" r="4.17"/><circle cx="1678.59" cy="148.65" r="4.17"/><circle cx="1718.94" cy="189.34" r="4.17"/><circle cx="1667.22" cy="198.43" r="4.17"/><circle cx="1694.99" cy="176.11" r="4.17"/>
</g>
<path d="M1229.5 41.5V394.5M1330.5 41.5V394.5M1432.5 41.5V394.5M1533.5 41.5V394.5M1634.5 41.5V394.5M1735.5 41.5V394.5M1836.5 41.5V394.5M1128.5 85.5H1937.5M1128.5 173.5H1937.5M1128.5 261.5H1937.5M1128.5 350.5H1937.5" stroke="#0000ff" stroke-width="1.11" fill="none"/>
<g clip-path="url(#ctr)">
<path d="M1153.78 227.9V244.5M1204.34 248.4V252.4M1254.91 245.1V254.1M1305.47 237.6V248.8M1356.03 225.3V241.7M1406.59 229.5V241.9M1457.16 213.8V230.2M1507.72 228.7V233.7M1558.28 183.1V203.7M1608.84 180.2V186.2M1659.41 177.5V181.5M1709.97 177.1V180.1M1760.53 182.9V185.9M1811.09 177.4V183.4M1861.66 150V168" stroke="#00ff00" stroke-width="2.08" fill="none"/>
<g fill="#00ff00" stroke="#00ff00" stroke-width="1.39"><circle cx="1153.78" cy="236.2" r="4.17"/><circle cx="1204.34" cy="250.4" r="4.17"/><circle cx="1254.91" cy="249.6" r="4.17"/><circle cx="1305.47" cy="243.2" r="4.17"/><circle cx="1356.03" cy="233.5" r="4.17"/><circle cx="1406.59" cy="235.7" r="4.17"/><circle cx="1457.16" cy="222" r="4.17"/><circle cx="1507.72" cy="231.2" r="4.17"/><circle cx="1558.28" cy="193.4" r="4.17"/><circle cx="1608.84" cy="183.2" r="4.17"/><circle cx="1659.41" cy="179.5" r="4.17"/><circle cx="1709.97" cy="178.6" r="4.17"/><circle cx="1760.53" cy="184.4" r="4.17"/><circle cx="1811.09" cy="180.4" r="4.17"/><circle cx="1861.66" cy="159" r="4.17"/><circle cx="1912.22" cy="157.5" r="4.17"/></g>
</g>
<path d="M1128.5 394.5v4.86M1229.5 394.5v4.86M1330.5 394.5v4.86M1432.5 394.5v4.86M1533.5 394.5v4.86M1634.5 394.5v4.86M1735.5 394.5v4.86M1836.5 394.5v4.86M1937.5 394.5v4.86M1128.5 85.5h-4.86M1128.5 173.5h-4.86M1128.5 261.5h-4.86M1128.5 350.5h-4.86" stroke="#000" stroke-width="1.11" fill="none"/>
<rect x="1128.5" y="41.5" width="809.0" height="353.0" fill="none" stroke="#000" stroke-width="1.11" stroke-linejoin="miter"/>
<rect x="1145.5" y="57.5" width="305" height="110" rx="5" ry="5" fill="#fff" fill-opacity="0.8" stroke="#ccc" stroke-opacity="0.8" stroke-width="1.39"/>
<circle cx="1191.6" cy="88.5" r="4.17" fill="#1f77b4" fill-opacity="0.75" stroke="#1f77b4" stroke-opacity="0.75" stroke-width="1.39"/>
<path d="M1191.6 118.2V151" stroke="#00ff00" stroke-width="2.08"/><circle cx="1191.6" cy="135.4" r="4.17" fill="#00ff00" stroke="#00ff00" stroke-width="1.39"/>
<path d="M148 880.5V871.16H155.6V880.5ZM231.6 880.5V861.82H239.2V880.5ZM246.8 880.5V843.15H254.4V880.5ZM262 880.5V852.48H269.6V880.5ZM269.6 880.5V871.16H277.2V880.5ZM277.2 880.5V852.48H284.8V880.5ZM284.8 880.5V871.16H292.4V880.5ZM292.4 880.5V871.16H300V880.5ZM300 880.5V861.82H307.6V880.5ZM307.6 880.5V871.16H315.2V880.5ZM315.2 880.5V871.16H322.8V880.5ZM322.8 880.5V815.13H330.4V880.5ZM330.4 880.5V861.82H338V880.5ZM338 880.5V871.16H345.6V880.5ZM345.6 880.5V833.81H353.2V880.5ZM353.2 880.5V852.48H360.8V880.5ZM360.8 880.5V815.13H368.4V880.5ZM368.4 880.5V824.47H376V880.5ZM376 880.5V824.47H383.6V880.5ZM383.6 880.5V815.13H391.2V880.5ZM391.2 880.5V787.11H398.8V880.5ZM398.8 880.5V805.79H406.4V880.5ZM406.4 880.5V796.45H414V880.5ZM414 880.5V759.1H421.6V880.5ZM421.6 880.5V824.47H429.2V880.5ZM429.2 880.5V721.74H436.8V880.5ZM436.8 880.5V721.74H444.4V880.5ZM444.4 880.5V647.03H452V880.5ZM452 880.5V768.44H459.6V880.5ZM459.6 880.5V703.07H467.2V880.5ZM467.2 880.5V619.02H474.8V880.5ZM474.8 880.5V721.74H482.4V880.5ZM482.4 880.5V628.36H490V880.5ZM490 880.5V675.05H497.6V880.5ZM497.6 880.5V647.03H505.2V880.5ZM505.2 880.5V712.4H512.8V880.5ZM512.8 880.5V647.03H520.4V880.5ZM520.4 880.5V581.66H528V880.5ZM528 880.5V544.31H535.6V880.5ZM535.6 880.5V656.37H543.2V880.5ZM543.2 880.5V591H550.8V880.5ZM550.8 880.5V656.37H558.4V880.5ZM558.4 880.5V572.33H566V880.5ZM566 880.5V637.7H573.6V880.5ZM573.6 880.5V656.37H581.2V880.5ZM581.2 880.5V665.71H588.8V880.5ZM588.8 880.5V703.07H596.4V880.5ZM596.4 880.5V684.39H604V880.5ZM604 880.5V693.73H611.6V880.5ZM611.6 880.5V684.39H619.2V880.5ZM619.2 880.5V777.78H626.8V880.5ZM626.8 880.5V815.13H634.4V880.5ZM634.4 880.5V712.4H642V880.5ZM642 880.5V796.45H649.6V880.5ZM649.6 880.5V777.78H657.2V880.5ZM657.2 880.5V787.11H664.8V880.5ZM664.8 880.5V861.82H672.4V880.5ZM672.4 880.5V824.47H680V880.5ZM680 880.5V796.45H687.6V880.5ZM687.6 880.5V843.15H695.2V880.5ZM695.2 880.5V861.82H702.8V880.5ZM702.8 880.5V843.15H710.4V880.5ZM710.4 880.5V861.82H718V880.5ZM718 880.5V833.81H725.6V880.5ZM725.6 880.5V852.48H733.2V880.5ZM733.2 880.5V861.82H740.8V880.5ZM740.8 880.5V852.48H748.4V880.5ZM748.4 880.5V871.16H756V880.5ZM756 880.5V861.82H763.6V880.5ZM763.6 880.5V871.16H771.2V880.5ZM771.2 880.5V871.16H778.8V880.5ZM786.4 880.5V861.82H794V880.5ZM794 880.5V871.16H801.6V880.5ZM801.6 880.5V871.16H809.2V880.5ZM809.2 880.5V871.16H816.8V880.5ZM816.8 880.5V861.82H824.4V880.5ZM847.2 880.5V871.16H854.8V880.5ZM892.8 880.5V871.16H900.4V880.5ZM900.4 880.5V871.16H908V880.5Z" fill="#1f77b4" clip-path="url(#cbl)"/>
<path d="M228.5 527.5V880.5M329.5 527.5V880.5M430.5 527.5V880.5M531.5 527.5V880.5M633.5 527.5V880.5M734.5 527.5V880.5M835.5 527.5V880.5M127.5 600.5H936.5M127.5 693.5H936.5M127.5 787.5H936.5" stroke="#0000ff" stroke-width="1.11" fill="none"/>
<path d="M127.5 880.5v4.86M228.5 880.5v4.86M329.5 880.5v4.86M430.5 880.5v4.86M531.5 880.5v4.86M633.5 880.5v4.86M734.5 880.5v4.86M835.5 880.5v4.86M936.5 880.5v4.86M127.5 880.5h-4.86M127.5 600.5h-4.86M127.5 693.5h-4.86M127.5 787.5h-4.86" stroke="#000" stroke-width="1.11" fill="none"/>
<rect x="127.5" y="527.5" width="809.0" height="353.0" fill="none" stroke="#000" stroke-width="1.11" stroke-linejoin="miter"/>
<g clip-path="url(#cbr)" fill="#1f77b4" fill-opacity="0.75" stroke="#1f77b4" stroke-opacity="0.75" stroke-width="1.39">
<circle cx="1126.45" cy="539.5" r="4.17"/><circle cx="1142.5" cy="626.5" r="4.17"/><circle cx="1248.55" cy="597.55" r="4.17"/><circle cx="1413.55" cy="599.5" r="4.17"/><circle cx="1180.45" cy="683.5" r="4.17"/><circle cx="1167.55" cy="722.5" r="4.17"/><circle cx="1184.5" cy="713.5" r="4.17"/><circle cx="1198.3" cy="711.55" r="4.17"/><circle cx="1201.45" cy="724.75" r="4.17"/><circle cx="1209.55" cy="727.45" r="4.17"/><circle cx="1212.25" cy="677.2" r="4.17"/><circle cx="1208.05" cy="686.2" r="4.17"/><circle cx="1208.5" cy="688" r="4.17"/><circle cx="1213.75" cy="691.45" r="4.17"/><circle cx="1217.5" cy="690.25" r="4.17"/><circle cx="1209.55" cy="695.8" r="4.17"/><circle cx="1220.5" cy="695.8" r="4.17"/><circle cx="1226.5" cy="688.3" r="4.17"/><circle cx="1226.2" cy="705.55" r="4.17"/><circle cx="1234.45" cy="703.3" r="4.17"/><circle cx="1219" cy="716.5" r="4.17"/><circle cx="1222" cy="716.2" r="4.17"/><circle cx="1221.7" cy="722.5" r="4.17"/><circle cx="1218.25" cy="726.7" r="4.17"/><circle cx="1222.45" cy="732.55" r="4.17"/><circle cx="1225.45" cy="766.45" r="4.17"/><circle cx="1239.55" cy="739.45" r="4.17"/><circle cx="1246.45" cy="741.55" r="4.17"/><circle cx="1247.5" cy="728.5" r="4.17"/><circle cx="1253.5" cy="722.2" r="4.17"/><circle cx="1249.45" cy="756.25" r="4.17"/><circle cx="1251.55" cy="676.45" r="4.17"/><circle cx="1266.55" cy="693.55" r="4.17"/><circle cx="1274.5" cy="681.25" r="4.17"/><circle cx="1277.5" cy="696.55" r="4.17"/><circle cx="1272.55" cy="706.45" r="4.17"/><circle cx="1273.3" cy="737.5" r="4.17"/><circle cx="1285.45" cy="687.55" r="4.17"/><circle cx="1286.5" cy="663.25" r="4.17"/><circle cx="1285.45" cy="753.55" r="4.17"/><circle cx="1290.25" cy="722.2" r="4.17"/><circle cx="1296.55" cy="721.45" r="4.17"/><circle cx="1294.45" cy="699.55" r="4.17"/><circle cx="1297.45" cy="673.3" r="4.17"/><circle cx="1306.45" cy="713.5" r="4.17"/><circle cx="1310.5" cy="686.5" r="4.17"/><circle cx="1312.45" cy="692.5" r="4.17"/><circle cx="1310.5" cy="755.5" r="4.17"/><circle cx="1318.3" cy="768.55" r="4.17"/><circle cx="1322.5" cy="767.5" r="4.17"/><circle cx="1322.5" cy="689.2" r="4.17"/><circle cx="1326.55" cy="691.45" r="4.17"/><circle cx="1323.55" cy="711.55" r="4.17"/><circle cx="1334.5" cy="696.55" r="4.17"/><circle cx="1339.45" cy="690.55" r="4.17"/><circle cx="1339" cy="660.55" r="4.17"/><circle cx="1342.45" cy="658.3" r="4.17"/><circle cx="1343.5" cy="666.7" r="4.17"/><circle cx="1340.5" cy="744.25" r="4.17"/><circle cx="1338.55" cy="778.3" r="4.17"/><circle cx="1350.55" cy="690.55" r="4.17"/><circle cx="1350.55" cy="770.5" r="4.17"/><circle cx="1355.5" cy="732.55" r="4.17"/><circle cx="1357.45" cy="702.25" r="4.17"/><circle cx="1359.55" cy="759.55" r="4.17"/><circle cx="1362.55" cy="772.45" r="4.17"/><circle cx="1366.45" cy="683.5" r="4.17"/><circle cx="1385.5" cy="668.05" r="4.17"/><circle cx="1385.5" cy="680.5" r="4.17"/><circle cx="1393.45" cy="670.45" r="4.17"/><circle cx="1394.5" cy="710.05" r="4.17"/><circle cx="1393.3" cy="717.55" r="4.17"/><circle cx="1399" cy="721.45" r="4.17"/><circle cx="1402.75" cy="724.45" r="4.17"/><circle cx="1402.45" cy="707.5" r="4.17"/><circle cx="1410.55" cy="733.45" r="4.17"/><circle cx="1413.55" cy="703.3" r="4.17"/><circle cx="1451.55" cy="624.55" r="4.17"/><circle cx="1456.5" cy="616.3" r="4.17"/><circle cx="1502.55" cy="620.5" r="4.17"/><circle cx="1557.45" cy="637.3" r="4.17"/><circle cx="1576.5" cy="629.2" r="4.17"/><circle cx="1597.5" cy="577.45" r="4.17"/><circle cx="1605.45" cy="577.45" r="4.17"/><circle cx="1624.5" cy="592.45" r="4.17"/><circle cx="1607.55" cy="614.2" r="4.17"/><circle cx="1625.55" cy="635.5" r="4.17"/><circle cx="1634.55" cy="635.5" r="4.17"/><circle cx="1649.55" cy="584.5" r="4.17"/><circle cx="1656.45" cy="611.2" r="4.17"/><circle cx="1665.45" cy="618.55" r="4.17"/><circle cx="1706.55" cy="592.45" r="4.17"/><circle cx="1697.55" cy="621.55" r="4.17"/><circle cx="1687.5" cy="627.55" r="4.17"/><circle cx="1692.45" cy="626.8" r="4.17"/><circle cx="1700.55" cy="635.2" r="4.17"/><circle cx="1421.55" cy="649.3" r="4.17"/><circle cx="1421.55" cy="673.3" r="4.17"/><circle cx="1424.55" cy="735.25" r="4.17"/><circle cx="1435.5" cy="764.2" r="4.17"/><circle cx="1439.55" cy="696.55" r="4.17"/><circle cx="1442.25" cy="670.45" r="4.17"/><circle cx="1447.5" cy="676.45" r="4.17"/><circle cx="1446.45" cy="651.25" r="4.17"/><circle cx="1455.45" cy="735.25" r="4.17"/><circle cx="1466.55" cy="731.2" r="4.17"/><circle cx="1469.55" cy="696.55" r="4.17"/><circle cx="1472.25" cy="709.3" r="4.17"/><circle cx="1471.5" cy="715.45" r="4.17"/><circle cx="1471.5" cy="773.2" r="4.17"/><circle cx="1483.5" cy="714.55" r="4.17"/><circle cx="1484.55" cy="717.25" r="4.17"/><circle cx="1488.45" cy="721.45" r="4.17"/><circle cx="1487.55" cy="702.25" r="4.17"/><circle cx="1485.45" cy="739" r="4.17"/><circle cx="1485.45" cy="746.5" r="4.17"/><circle cx="1495.5" cy="707.5" r="4.17"/><circle cx="1499.55" cy="698.95" r="4.17"/><circle cx="1501.5" cy="646.45" r="4.17"/><circle cx="1504.5" cy="739.3" r="4.17"/><circle cx="1511.55" cy="730.3" r="4.17"/><circle cx="1516.5" cy="753.25" r="4.17"/><circle cx="1521.45" cy="711.25" r="4.17"/><circle cx="1522.5" cy="719.2" r="4.17"/><circle cx="1527.45" cy="705.25" r="4.17"/><circle cx="1529.55" cy="738.25" r="4.17"/><circle cx="1532.55" cy="741.55" r="4.17"/><circle cx="1535.25" cy="682.45" r="4.17"/><circle cx="1537.5" cy="693.25" r="4.17"/><circle cx="1548.3" cy="740.2" r="4.17"/><circle cx="1556.55" cy="782.95" r="4.17"/><circle cx="1566.45" cy="682.45" r="4.17"/><circle cx="1566.45" cy="692.5" r="4.17"/><circle cx="1566.45" cy="707.5" r="4.17"/><circle cx="1569.45" cy="747.25" r="4.17"/><circle cx="1576.5" cy="706.45" r="4.17"/><circle cx="1582.5" cy="645.25" r="4.17"/><circle cx="1577.55" cy="651.55" r="4.17"/><circle cx="1583.55" cy="769.3" r="4.17"/><circle cx="1585.5" cy="755.2" r="4.17"/><circle cx="1591.5" cy="761.2" r="4.17"/><circle cx="1589.55" cy="700.75" r="4.17"/><circle cx="1592.55" cy="724.3" r="4.17"/><circle cx="1595.55" cy="684.25" r="4.17"/><circle cx="1597.5" cy="698.5" r="4.17"/><circle cx="1601.55" cy="697" r="4.17"/><circle cx="1598.55" cy="672.25" r="4.17"/><circle cx="1599" cy="676.75" r="4.17"/><circle cx="1600.5" cy="680.2" r="4.17"/><circle cx="1604.55" cy="665.8" r="4.17"/><circle cx="1607.55" cy="669.25" r="4.17"/><circle cx="1608.45" cy="688.3" r="4.17"/><circle cx="1602.45" cy="707.5" r="4.17"/><circle cx="1603.5" cy="719.2" r="4.17"/><circle cx="1598.55" cy="737.5" r="4.17"/><circle cx="1600.5" cy="753.25" r="4.17"/><circle cx="1603.5" cy="781.45" r="4.17"/><circle cx="1611.45" cy="787.75" r="4.17"/><circle cx="1607.55" cy="740.2" r="4.17"/><circle cx="1609.5" cy="734.2" r="4.17"/><circle cx="1614.45" cy="730.45" r="4.17"/><circle cx="1610.55" cy="726.7" r="4.17"/><circle cx="1614.45" cy="722.2" r="4.17"/><circle cx="1611" cy="701.5" r="4.17"/><circle cx="1614.45" cy="696.25" r="4.17"/><circle cx="1613.55" cy="659.2" r="4.17"/><circle cx="1618.5" cy="655.75" r="4.17"/><circle cx="1625.55" cy="687.55" r="4.17"/><circle cx="1626" cy="678.25" r="4.17"/><circle cx="1630.5" cy="673.75" r="4.17"/><circle cx="1624.5" cy="720.55" r="4.17"/><circle cx="1625.55" cy="722.2" r="4.17"/><circle cx="1629.45" cy="725.2" r="4.17"/><circle cx="1631.55" cy="732.55" r="4.17"/><circle cx="1626.45" cy="705.25" r="4.17"/><circle cx="1631.55" cy="707.5" r="4.17"/><circle cx="1624.5" cy="750.25" r="4.17"/><circle cx="1621.5" cy="755.5" r="4.17"/><circle cx="1624.5" cy="759.55" r="4.17"/><circle cx="1621.5" cy="775.45" r="4.17"/><circle cx="1632" cy="646" r="4.17"/><circle cx="1633.5" cy="649" r="4.17"/><circle cx="1634.55" cy="658.75" r="4.17"/><circle cx="1634.55" cy="672.25" r="4.17"/><circle cx="1641.45" cy="716.05" r="4.17"/><circle cx="1639.5" cy="737.5" r="4.17"/><circle cx="1638" cy="745" r="4.17"/><circle cx="1644" cy="743.5" r="4.17"/><circle cx="1638" cy="752.5" r="4.17"/><circle cx="1635.45" cy="756.25" r="4.17"/><circle cx="1643.55" cy="773.95" r="4.17"/><circle cx="1651.5" cy="758.05" r="4.17"/><circle cx="1647.45" cy="783.25" r="4.17"/><circle cx="1657.5" cy="768.25" r="4.17"/><circle cx="1662.75" cy="770.5" r="4.17"/><circle cx="1668" cy="763.75" r="4.17"/><circle cx="1671.45" cy="758.5" r="4.17"/><circle cx="1681.5" cy="767.5" r="4.17"/><circle cx="1687.5" cy="765.25" r="4.17"/><circle cx="1694.55" cy="761.2" r="4.17"/><circle cx="1686.45" cy="776.2" r="4.17"/><circle cx="1702.5" cy="776.95" r="4.17"/><circle cx="1697.55" cy="751.75" r="4.17"/><circle cx="1708.5" cy="766" r="4.17"/><circle cx="1657.5" cy="745" r="4.17"/><circle cx="1665" cy="752.5" r="4.17"/><circle cx="1672.5" cy="749.5" r="4.17"/><circle cx="1678.5" cy="748.75" r="4.17"/><circle cx="1690.5" cy="745" r="4.17"/><circle cx="1665" cy="736" r="4.17"/><circle cx="1707" cy="745" r="4.17"/><circle cx="1639.5" cy="657.25" r="4.17"/><circle cx="1644" cy="657.25" r="4.17"/><circle cx="1648.5" cy="656.5" r="4.17"/><circle cx="1653" cy="662.5" r="4.17"/><circle cx="1657.5" cy="665.5" r="4.17"/><circle cx="1663.5" cy="648.25" r="4.17"/><circle cx="1668" cy="646.75" r="4.17"/><circle cx="1672.5" cy="646.75" r="4.17"/><circle cx="1660.5" cy="655" r="4.17"/><circle cx="1666.5" cy="656.5" r="4.17"/><circle cx="1678.5" cy="659.5" r="4.17"/><circle cx="1686" cy="655" r="4.17"/><circle cx="1693.5" cy="655.75" r="4.17"/><circle cx="1701.75" cy="651.25" r="4.17"/><circle cx="1702.5" cy="642.25" r="4.17"/><circle cx="1674" cy="663.25" r="4.17"/><circle cx="1689" cy="668.5" r="4.17"/><circle cx="1582.5" cy="793.3" r="4.17"/><circle cx="1606.5" cy="795.55" r="4.17"/><circle cx="1619.55" cy="792.25" r="4.17"/><circle cx="1645.5" cy="792.25" r="4.17"/><circle cx="1657.5" cy="793.3" r="4.17"/><circle cx="1673.55" cy="799.3" r="4.17"/><circle cx="1671.45" cy="806.5" r="4.17"/><circle cx="1654.5" cy="813.25" r="4.17"/><circle cx="1699.5" cy="791.2" r="4.17"/><circle cx="1707.45" cy="793.3" r="4.17"/><circle cx="1694.55" cy="815.5" r="4.17"/><circle cx="1688.55" cy="820.75" r="4.17"/><circle cx="1616.55" cy="828.25" r="4.17"/><circle cx="1620.45" cy="827.2" r="4.17"/><circle cx="1641.45" cy="826.3" r="4.17"/><circle cx="1791.5" cy="542.5" r="4.17"/><circle cx="1714.62" cy="582.12" r="4.17"/><circle cx="1715.38" cy="587.5" r="4.17"/><circle cx="1769.62" cy="602.5" r="4.17"/><circle cx="1738.38" cy="605.38" r="4.17"/><circle cx="1743.38" cy="612.5" r="4.17"/><circle cx="1740.38" cy="619.62" r="4.17"/><circle cx="1780.38" cy="614.38" r="4.17"/><circle cx="1795.62" cy="606.25" r="4.17"/><circle cx="1793.38" cy="618.5" r="4.17"/><circle cx="1809.62" cy="610.25" r="4.17"/><circle cx="1766.62" cy="629.38" r="4.17"/><circle cx="1794.62" cy="631.88" r="4.17"/><circle cx="1793.75" cy="636.88" r="4.17"/><circle cx="1711.62" cy="621.25" r="4.17"/><circle cx="1717.5" cy="623.12" r="4.17"/><circle cx="1722.5" cy="625.38" r="4.17"/><circle cx="1728.75" cy="621.25" r="4.17"/><circle cx="1733.75" cy="633.12" r="4.17"/><circle cx="1713.75" cy="637.5" r="4.17"/><circle cx="1718.75" cy="637.5" r="4.17"/><circle cx="1723.75" cy="636.25" r="4.17"/><circle cx="1741.25" cy="637.5" r="4.17"/><circle cx="1746.25" cy="640.62" r="4.17"/><circle cx="1910.62" cy="703.5" r="4.17"/><circle cx="1842.5" cy="666.25" r="4.17"/><circle cx="1843.38" cy="679.38" r="4.17"/><circle cx="1839.38" cy="684.38" r="4.17"/><circle cx="1836.62" cy="716.25" r="4.17"/><circle cx="1820.38" cy="671.88" r="4.17"/><circle cx="1820.62" cy="677.12" r="4.17"/><circle cx="1811.62" cy="674" r="4.17"/><circle cx="1812.5" cy="684.12" r="4.17"/><circle cx="1824.38" cy="691.25" r="4.17"/><circle cx="1816.62" cy="694.38" r="4.17"/><circle cx="1804.38" cy="648.5" r="4.17"/><circle cx="1804.62" cy="660.38" r="4.17"/><circle cx="1806.25" cy="640.62" r="4.17"/><circle cx="1789.62" cy="647.25" r="4.17"/><circle cx="1782.5" cy="653.12" r="4.17"/><circle cx="1792.5" cy="641.88" r="4.17"/><circle cx="1793.12" cy="669.38" r="4.17"/><circle cx="1797.5" cy="671.88" r="4.17"/><circle cx="1799.62" cy="676.62" r="4.17"/><circle cx="1790" cy="681.25" r="4.17"/><circle cx="1794.38" cy="681.88" r="4.17"/><circle cx="1779.12" cy="671.88" r="4.17"/><circle cx="1778.12" cy="675.38" r="4.17"/><circle cx="1798.38" cy="696.25" r="4.17"/><circle cx="1801.25" cy="701.25" r="4.17"/><circle cx="1803.75" cy="703.12" r="4.17"/><circle cx="1801.88" cy="706.25" r="4.17"/><circle cx="1793.75" cy="705.62" r="4.17"/><circle cx="1785.62" cy="706.25" r="4.17"/><circle cx="1782.5" cy="699.38" r="4.17"/><circle cx="1775.62" cy="707.5" r="4.17"/><circle cx="1767.5" cy="704.38" r="4.17"/><circle cx="1809.62" cy="717.12" r="4.17"/><circle cx="1805.38" cy="718.12" r="4.17"/><circle cx="1800" cy="721.25" r="4.17"/><circle cx="1805.38" cy="729.38" r="4.17"/><circle cx="1812.5" cy="732.5" r="4.17"/><circle cx="1784.38" cy="719.38" r="4.17"/><circle cx="1787.5" cy="720.62" r="4.17"/><circle cx="1786.25" cy="725" r="4.17"/><circle cx="1792.5" cy="737.12" r="4.17"/><circle cx="1801.25" cy="742.5" r="4.17"/><circle cx="1812.5" cy="752.5" r="4.17"/><circle cx="1788.75" cy="744.38" r="4.17"/><circle cx="1781.88" cy="736.88" r="4.17"/><circle cx="1789.38" cy="751.62" r="4.17"/><circle cx="1793.5" cy="754.38" r="4.17"/><circle cx="1782.5" cy="747.5" r="4.17"/><circle cx="1776.25" cy="747.5" r="4.17"/><circle cx="1774.38" cy="757.25" r="4.17"/><circle cx="1770" cy="756.88" r="4.17"/><circle cx="1777.5" cy="740" r="4.17"/><circle cx="1781.25" cy="726.25" r="4.17"/><circle cx="1776.25" cy="728.75" r="4.17"/><circle cx="1771.25" cy="649.38" r="4.17"/><circle cx="1771.25" cy="650.62" r="4.17"/><circle cx="1771.62" cy="657.5" r="4.17"/><circle cx="1775" cy="685" r="4.17"/><circle cx="1776.25" cy="683.75" r="4.17"/><circle cx="1773.75" cy="690" r="4.17"/><circle cx="1775" cy="696.25" r="4.17"/><circle cx="1719.38" cy="783.38" r="4.17"/><circle cx="1720.38" cy="773.38" r="4.17"/><circle cx="1734.38" cy="792.25" r="4.17"/><circle cx="1714.62" cy="809.38" r="4.17"/><circle cx="1724.38" cy="819.62" r="4.17"/><circle cx="1731.5" cy="819.62" r="4.17"/><circle cx="1741.62" cy="777.25" r="4.17"/><circle cx="1750.38" cy="784.38" r="4.17"/><circle cx="1765.38" cy="777.5" r="4.17"/><circle cx="1772.25" cy="780.38" r="4.17"/><circle cx="1780.38" cy="776.88" r="4.17"/><circle cx="1779.38" cy="782.5" r="4.17"/><circle cx="1810.38" cy="776.25" r="4.17"/><circle cx="1814.62" cy="787.25" r="4.17"/><circle cx="1817.5" cy="801.25" r="4.17"/><circle cx="1838.5" cy="802.5" r="4.17"/><circle cx="1781.5" cy="813.38" r="4.17"/><circle cx="1794.38" cy="813.38" r="4.17"/><circle cx="1789.38" cy="833.38" r="4.17"/><circle cx="1812.5" cy="832.25" r="4.17"/><circle cx="1828.5" cy="825.25" r="4.17"/><circle cx="1770.62" cy="871.25" r="4.17"/><circle cx="1713.75" cy="769.38" r="4.17"/><circle cx="1718.12" cy="769.38" r="4.17"/><circle cx="1726.88" cy="763.75" r="4.17"/><circle cx="1731.25" cy="763.5" r="4.17"/><circle cx="1745" cy="764.38" r="4.17"/><circle cx="1765.38" cy="764.12" r="4.17"/><circle cx="1713.75" cy="763.75" r="4.17"/><circle cx="1746.25" cy="760.62" r="4.17"/><circle cx="1763.75" cy="760.62" r="4.17"/><circle cx="1696.08" cy="772.64" r="4.17"/><circle cx="1647.15" cy="773.1" r="4.17"/><circle cx="1728.26" cy="770.43" r="4.17"/><circle cx="1663.73" cy="767.32" r="4.17"/><circle cx="1741.86" cy="764.71" r="4.17"/><circle cx="1744.11" cy="763.8" r="4.17"/><circle cx="1697.4" cy="759.31" r="4.17"/><circle cx="1684.35" cy="759.24" r="4.17"/><circle cx="1698.85" cy="758.08" r="4.17"/><circle cx="1656.64" cy="752.64" r="4.17"/><circle cx="1774.71" cy="753.16" r="4.17"/><circle cx="1720.48" cy="754.27" r="4.17"/><circle cx="1744.33" cy="754.87" r="4.17"/><circle cx="1748.41" cy="752.56" r="4.17"/><circle cx="1667.42" cy="749.82" r="4.17"/><circle cx="1711.94" cy="751.77" r="4.17"/><circle cx="1704.13" cy="745.6" r="4.17"/><circle cx="1717.6" cy="745.89" r="4.17"/><circle cx="1704.78" cy="746.11" r="4.17"/><circle cx="1777.88" cy="747.08" r="4.17"/><circle cx="1773.44" cy="747.74" r="4.17"/><circle cx="1696.16" cy="745.48" r="4.17"/><circle cx="1650.92" cy="748" r="4.17"/><circle cx="1646.96" cy="748.3" r="4.17"/><circle cx="1675.4" cy="746.61" r="4.17"/><circle cx="1668.13" cy="748.1" r="4.17"/><circle cx="1651.21" cy="748.41" r="4.17"/><circle cx="1737.15" cy="745.69" r="4.17"/><circle cx="1748.24" cy="744.95" r="4.17"/><circle cx="1753.07" cy="744.91" r="4.17"/><circle cx="1726.99" cy="742.31" r="4.17"/><circle cx="1684.03" cy="744.81" r="4.17"/><circle cx="1690.91" cy="743.91" r="4.17"/><circle cx="1705.77" cy="743.07" r="4.17"/><circle cx="1718.06" cy="742.85" r="4.17"/><circle cx="1641.99" cy="743.66" r="4.17"/><circle cx="1665.83" cy="743.2" r="4.17"/><circle cx="1755.58" cy="741.89" r="4.17"/><circle cx="1637.29" cy="741.78" r="4.17"/><circle cx="1680.19" cy="741.3" r="4.17"/><circle cx="1661.41" cy="739.81" r="4.17"/><circle cx="1702.28" cy="740.83" r="4.17"/><circle cx="1638.84" cy="741.15" r="4.17"/><circle cx="1736.4" cy="739.57" r="4.17"/><circle cx="1772.96" cy="741.21" r="4.17"/><circle cx="1677.21" cy="739.98" r="4.17"/><circle cx="1650.34" cy="741.52" r="4.17"/><circle cx="1665.86" cy="741.19" r="4.17"/><circle cx="1709.91" cy="738.83" r="4.17"/><circle cx="1695.59" cy="742.01" r="4.17"/><circle cx="1688.63" cy="739.46" r="4.17"/><circle cx="1745.62" cy="740.15" r="4.17"/><circle cx="1667.64" cy="740.95" r="4.17"/><circle cx="1708" cy="739.26" r="4.17"/><circle cx="1755.15" cy="738.8" r="4.17"/><circle cx="1704.4" cy="735.98" r="4.17"/><circle cx="1667.67" cy="737.59" r="4.17"/><circle cx="1693.23" cy="736.61" r="4.17"/><circle cx="1750.19" cy="737.48" r="4.17"/><circle cx="1703.13" cy="733.21" r="4.17"/><circle cx="1738.35" cy="732.29" r="4.17"/><circle cx="1752.84" cy="733.11" r="4.17"/><circle cx="1700.58" cy="735.22" r="4.17"/><circle cx="1651.82" cy="734.86" r="4.17"/><circle cx="1734.06" cy="734.42" r="4.17"/><circle cx="1776.98" cy="732.78" r="4.17"/><circle cx="1733.87" cy="735.15" r="4.17"/><circle cx="1678.44" cy="733.72" r="4.17"/><circle cx="1705.69" cy="734.6" r="4.17"/><circle cx="1736.15" cy="734.76" r="4.17"/><circle cx="1772.18" cy="731.11" r="4.17"/><circle cx="1694.67" cy="729.23" r="4.17"/><circle cx="1741.06" cy="730" r="4.17"/><circle cx="1750.96" cy="729.31" r="4.17"/><circle cx="1763.98" cy="730.65" r="4.17"/><circle cx="1707.28" cy="730.58" r="4.17"/><circle cx="1652.32" cy="729.63" r="4.17"/><circle cx="1702.9" cy="731.63" r="4.17"/><circle cx="1718.9" cy="730.64" r="4.17"/><circle cx="1666.41" cy="728.97" r="4.17"/><circle cx="1648.67" cy="729.93" r="4.17"/><circle cx="1707.61" cy="730.94" r="4.17"/><circle cx="1712.69" cy="729.41" r="4.17"/><circle cx="1690.16" cy="731.91" r="4.17"/><circle cx="1655.57" cy="731.1" r="4.17"/><circle cx="1718.96" cy="731.41" r="4.17"/><circle cx="1729.63" cy="729.34" r="4.17"/><circle cx="1709.59" cy="730.32" r="4.17"/><circle cx="1761.38" cy="729.27" r="4.17"/><circle cx="1715.51" cy="730.47" r="4.17"/><circle cx="1683.27" cy="731.46" r="4.17"/><circle cx="1713.37" cy="731.97" r="4.17"/><circle cx="1688.48" cy="730.69" r="4.17"/><circle cx="1745.98" cy="730.9" r="4.17"/><circle cx="1678.64" cy="727.61" r="4.17"/><circle cx="1646.08" cy="728.2" r="4.17"/><circle cx="1688.36" cy="727.16" r="4.17"/><circle cx="1775.63" cy="726.49" r="4.17"/><circle cx="1714.06" cy="726.04" r="4.17"/><circle cx="1747.32" cy="726.64" r="4.17"/><circle cx="1750.63" cy="728.34" r="4.17"/><circle cx="1669" cy="728.01" r="4.17"/><circle cx="1704.52" cy="728.46" r="4.17"/><circle cx="1704.14" cy="728.79" r="4.17"/><circle cx="1690.47" cy="726.38" r="4.17"/><circle cx="1694.77" cy="725.12" r="4.17"/><circle cx="1718.24" cy="722.76" r="4.17"/><circle cx="1745.51" cy="724.9" r="4.17"/><circle cx="1701.5" cy="724.01" r="4.17"/><circle cx="1677.41" cy="723.76" r="4.17"/><circle cx="1768.17" cy="723.37" r="4.17"/><circle cx="1697.74" cy="723.27" r="4.17"/><circle cx="1766.92" cy="723.2" r="4.17"/><circle cx="1670.44" cy="723.15" r="4.17"/><circle cx="1657.28" cy="722.4" r="4.17"/><circle cx="1669.92" cy="724.64" r="4.17"/><circle cx="1667.39" cy="723.83" r="4.17"/><circle cx="1733.57" cy="724.72" r="4.17"/><circle cx="1719.69" cy="724.34" r="4.17"/><circle cx="1729.5" cy="724.09" r="4.17"/><circle cx="1709.67" cy="724.87" r="4.17"/><circle cx="1726.86" cy="722.3" r="4.17"/><circle cx="1671.1" cy="723.76" r="4.17"/><circle cx="1769.86" cy="725.37" r="4.17"/><circle cx="1722.61" cy="722.44" r="4.17"/><circle cx="1671.16" cy="720.84" r="4.17"/><circle cx="1692.55" cy="720.03" r="4.17"/><circle cx="1684.84" cy="719.71" r="4.17"/><circle cx="1745.8" cy="722.17" r="4.17"/><circle cx="1723.69" cy="719.9" r="4.17"/><circle cx="1726.84" cy="720.74" r="4.17"/><circle cx="1640.82" cy="722.15" r="4.17"/><circle cx="1709.55" cy="721.26" r="4.17"/><circle cx="1757.03" cy="722.07" r="4.17"/><circle cx="1691.1" cy="716.76" r="4.17"/><circle cx="1701.6" cy="716.13" r="4.17"/><circle cx="1649.45" cy="716.57" r="4.17"/><circle cx="1727.53" cy="715.99" r="4.17"/><circle cx="1694.17" cy="716.48" r="4.17"/><circle cx="1671.28" cy="718.06" r="4.17"/><circle cx="1772.04" cy="716.97" r="4.17"/><circle cx="1755.2" cy="716.32" r="4.17"/><circle cx="1752.15" cy="717.26" r="4.17"/><circle cx="1648.51" cy="717.56" r="4.17"/><circle cx="1696.73" cy="717.93" r="4.17"/><circle cx="1717.97" cy="718.09" r="4.17"/><circle cx="1737.77" cy="718.53" r="4.17"/><circle cx="1679.96" cy="717.16" r="4.17"/><circle cx="1655.19" cy="718.11" r="4.17"/><circle cx="1662.7" cy="717.25" r="4.17"/><circle cx="1742.5" cy="715.69" r="4.17"/><circle cx="1663.28" cy="714.17" r="4.17"/><circle cx="1666.97" cy="714.22" r="4.17"/><circle cx="1774.92" cy="715.37" r="4.17"/><circle cx="1673.82" cy="713.4" r="4.17"/><circle cx="1764.63" cy="714.67" r="4.17"/><circle cx="1765.64" cy="714.24" r="4.17"/><circle cx="1774.48" cy="715.29" r="4.17"/><circle cx="1708.03" cy="715.25" r="4.17"/><circle cx="1721.24" cy="712.66" r="4.17"/><circle cx="1666.93" cy="712.6" r="4.17"/><circle cx="1751.88" cy="714.82" r="4.17"/><circle cx="1745.48" cy="714.1" r="4.17"/><circle cx="1726.88" cy="712.41" r="4.17"/><circle cx="1707.84" cy="714.51" r="4.17"/><circle cx="1674.85" cy="712.23" r="4.17"/><circle cx="1746.57" cy="709.29" r="4.17"/><circle cx="1756.57" cy="711.05" r="4.17"/><circle cx="1747.61" cy="709.64" r="4.17"/><circle cx="1753.38" cy="709.47" r="4.17"/><circle cx="1682.08" cy="710.22" r="4.17"/><circle cx="1671.5" cy="709.29" r="4.17"/><circle cx="1699.17" cy="711.13" r="4.17"/><circle cx="1772.52" cy="709.4" r="4.17"/><circle cx="1677.79" cy="711.51" r="4.17"/><circle cx="1771.6" cy="711.26" r="4.17"/><circle cx="1754.08" cy="711.14" r="4.17"/><circle cx="1669.62" cy="712.13" r="4.17"/><circle cx="1643.79" cy="709" r="4.17"/><circle cx="1762.06" cy="710.76" r="4.17"/><circle cx="1716.71" cy="711.3" r="4.17"/><circle cx="1752.89" cy="711.96" r="4.17"/><circle cx="1737.31" cy="709.51" r="4.17"/><circle cx="1731.55" cy="710.31" r="4.17"/><circle cx="1688.34" cy="709.98" r="4.17"/><circle cx="1763.82" cy="707.69" r="4.17"/><circle cx="1657.87" cy="707.99" r="4.17"/><circle cx="1675.22" cy="705.96" r="4.17"/><circle cx="1718.48" cy="707.77" r="4.17"/><circle cx="1748.48" cy="707.34" r="4.17"/><circle cx="1733.35" cy="707.8" r="4.17"/><circle cx="1735.79" cy="707.83" r="4.17"/><circle cx="1685.52" cy="705.83" r="4.17"/><circle cx="1759.5" cy="706.28" r="4.17"/><circle cx="1764.26" cy="706.29" r="4.17"/><circle cx="1697.7" cy="705.73" r="4.17"/><circle cx="1646.72" cy="705.72" r="4.17"/><circle cx="1694.97" cy="707.23" r="4.17"/><circle cx="1750.61" cy="707.51" r="4.17"/><circle cx="1659.68" cy="706.38" r="4.17"/><circle cx="1709.27" cy="705.84" r="4.17"/><circle cx="1669.97" cy="706.2" r="4.17"/><circle cx="1722.99" cy="706.52" r="4.17"/><circle cx="1690.22" cy="707.43" r="4.17"/><circle cx="1675.91" cy="707.78" r="4.17"/><circle cx="1674.85" cy="706.37" r="4.17"/><circle cx="1728.85" cy="707.69" r="4.17"/><circle cx="1731.07" cy="703.64" r="4.17"/><circle cx="1749.73" cy="705.28" r="4.17"/><circle cx="1769.42" cy="702.44" r="4.17"/><circle cx="1684.35" cy="702.51" r="4.17"/><circle cx="1721.83" cy="705.23" r="4.17"/><circle cx="1664.12" cy="704.21" r="4.17"/><circle cx="1691.36" cy="703.86" r="4.17"/><circle cx="1699.34" cy="702.92" r="4.17"/><circle cx="1651.6" cy="702.63" r="4.17"/><circle cx="1703.99" cy="703.04" r="4.17"/><circle cx="1644.66" cy="704.47" r="4.17"/><circle cx="1731.02" cy="704.54" r="4.17"/><circle cx="1716.21" cy="704.88" r="4.17"/><circle cx="1764.63" cy="705.29" r="4.17"/><circle cx="1698.19" cy="704.23" r="4.17"/><circle cx="1764.03" cy="704.7" r="4.17"/><circle cx="1769.2" cy="703.15" r="4.17"/><circle cx="1772.78" cy="703.67" r="4.17"/><circle cx="1748.82" cy="703.8" r="4.17"/><circle cx="1732.88" cy="704.76" r="4.17"/><circle cx="1724.3" cy="703.37" r="4.17"/><circle cx="1687.4" cy="702.46" r="4.17"/><circle cx="1707.69" cy="702.94" r="4.17"/><circle cx="1708.49" cy="702.61" r="4.17"/><circle cx="1697.53" cy="703.18" r="4.17"/><circle cx="1677.3" cy="703.52" r="4.17"/><circle cx="1723.34" cy="703.75" r="4.17"/><circle cx="1662.92" cy="699.33" r="4.17"/><circle cx="1746.57" cy="699.88" r="4.17"/><circle cx="1678.19" cy="702.11" r="4.17"/><circle cx="1728.13" cy="700.79" r="4.17"/><circle cx="1712.03" cy="701.35" r="4.17"/><circle cx="1742.93" cy="702.21" r="4.17"/><circle cx="1691.05" cy="700.71" r="4.17"/><circle cx="1726.3" cy="699.6" r="4.17"/><circle cx="1686.95" cy="700.49" r="4.17"/><circle cx="1700.94" cy="699.41" r="4.17"/><circle cx="1708.72" cy="701.5" r="4.17"/><circle cx="1768.7" cy="700.22" r="4.17"/><circle cx="1705.31" cy="699.76" r="4.17"/><circle cx="1730.07" cy="700.74" r="4.17"/><circle cx="1687.87" cy="701.91" r="4.17"/><circle cx="1684.71" cy="699.79" r="4.17"/><circle cx="1682.46" cy="700.39" r="4.17"/><circle cx="1779.45" cy="698.53" r="4.17"/><circle cx="1710.32" cy="696.55" r="4.17"/><circle cx="1729.15" cy="698.15" r="4.17"/><circle cx="1728.16" cy="695.99" r="4.17"/><circle cx="1712.05" cy="697.79" r="4.17"/><circle cx="1668.9" cy="698.43" r="4.17"/><circle cx="1662.91" cy="698.25" r="4.17"/><circle cx="1696.47" cy="697.75" r="4.17"/><circle cx="1759.21" cy="697.45" r="4.17"/><circle cx="1657.41" cy="696.85" r="4.17"/><circle cx="1643.25" cy="696.08" r="4.17"/><circle cx="1707.93" cy="696.04" r="4.17"/><circle cx="1678.78" cy="696.36" r="4.17"/><circle cx="1675.68" cy="697.27" r="4.17"/><circle cx="1707.2" cy="696.4" r="4.17"/><circle cx="1737.62" cy="696.26" r="4.17"/><circle cx="1705.68" cy="698.22" r="4.17"/><circle cx="1747.83" cy="698.16" r="4.17"/><circle cx="1704.93" cy="698.93" r="4.17"/><circle cx="1700.68" cy="693.79" r="4.17"/><circle cx="1742.79" cy="693.13" r="4.17"/><circle cx="1705.3" cy="694.97" r="4.17"/><circle cx="1773.92" cy="695.29" r="4.17"/><circle cx="1673.95" cy="694.93" r="4.17"/><circle cx="1676.08" cy="693.28" r="4.17"/><circle cx="1681.12" cy="693.97" r="4.17"/><circle cx="1714.56" cy="694.58" r="4.17"/><circle cx="1652.48" cy="695.03" r="4.17"/><circle cx="1678.84" cy="693.59" r="4.17"/><circle cx="1744.45" cy="695.55" r="4.17"/><circle cx="1696.15" cy="694.43" r="4.17"/><circle cx="1671.73" cy="693.73" r="4.17"/><circle cx="1745.5" cy="692.98" r="4.17"/><circle cx="1713.2" cy="693.46" r="4.17"/><circle cx="1736.97" cy="693.69" r="4.17"/><circle cx="1686.03" cy="695.26" r="4.17"/><circle cx="1648.92" cy="694.83" r="4.17"/><circle cx="1720.55" cy="695.29" r="4.17"/><circle cx="1717.88" cy="689.07" r="4.17"/><circle cx="1679.4" cy="690.69" r="4.17"/><circle cx="1650.2" cy="691.69" r="4.17"/><circle cx="1694.72" cy="689.76" r="4.17"/><circle cx="1704.73" cy="689.6" r="4.17"/><circle cx="1752.38" cy="690.53" r="4.17"/><circle cx="1688.03" cy="691.6" r="4.17"/><circle cx="1673.7" cy="691.31" r="4.17"/><circle cx="1709.44" cy="689.77" r="4.17"/><circle cx="1694.14" cy="692.32" r="4.17"/><circle cx="1657.16" cy="689.94" r="4.17"/><circle cx="1768.05" cy="691.34" r="4.17"/><circle cx="1660.7" cy="690.96" r="4.17"/><circle cx="1727.83" cy="692.09" r="4.17"/><circle cx="1682.61" cy="689.84" r="4.17"/><circle cx="1713.06" cy="690.19" r="4.17"/><circle cx="1636.56" cy="690.37" r="4.17"/><circle cx="1779.13" cy="690.06" r="4.17"/><circle cx="1645.23" cy="691.49" r="4.17"/><circle cx="1680.28" cy="692" r="4.17"/><circle cx="1753.43" cy="690.22" r="4.17"/><circle cx="1689.17" cy="691.15" r="4.17"/><circle cx="1719.95" cy="691.69" r="4.17"/><circle cx="1718.06" cy="690.46" r="4.17"/><circle cx="1674.91" cy="692.25" r="4.17"/><circle cx="1685.29" cy="685.78" r="4.17"/><circle cx="1755.98" cy="686.33" r="4.17"/><circle cx="1739.44" cy="688.11" r="4.17"/><circle cx="1712.02" cy="688.71" r="4.17"/><circle cx="1665.43" cy="688.99" r="4.17"/><circle cx="1644.07" cy="686.48" r="4.17"/><circle cx="1738.92" cy="686.59" r="4.17"/><circle cx="1679.83" cy="688.65" r="4.17"/><circle cx="1695.04" cy="686.78" r="4.17"/><circle cx="1653.53" cy="687.39" r="4.17"/><circle cx="1718.53" cy="687.4" r="4.17"/><circle cx="1680.11" cy="688.66" r="4.17"/><circle cx="1643.78" cy="686.6" r="4.17"/><circle cx="1645.9" cy="687.15" r="4.17"/><circle cx="1743.01" cy="687.3" r="4.17"/><circle cx="1655.15" cy="687.97" r="4.17"/><circle cx="1666.3" cy="686.87" r="4.17"/><circle cx="1765.58" cy="688.98" r="4.17"/><circle cx="1684.49" cy="686.22" r="4.17"/><circle cx="1650.45" cy="683.26" r="4.17"/><circle cx="1753.28" cy="685.41" r="4.17"/><circle cx="1676.48" cy="682.89" r="4.17"/><circle cx="1706.71" cy="683.65" r="4.17"/><circle cx="1696.06" cy="683.67" r="4.17"/><circle cx="1742.67" cy="684.6" r="4.17"/><circle cx="1709.84" cy="683.44" r="4.17"/><circle cx="1738.9" cy="683.84" r="4.17"/><circle cx="1716.88" cy="683.25" r="4.17"/><circle cx="1667.2" cy="683.37" r="4.17"/><circle cx="1643.72" cy="684.62" r="4.17"/><circle cx="1760.72" cy="684.47" r="4.17"/><circle cx="1674.73" cy="682.78" r="4.17"/><circle cx="1736.64" cy="682.99" r="4.17"/><circle cx="1727.35" cy="683.32" r="4.17"/><circle cx="1685.13" cy="681.96" r="4.17"/><circle cx="1634.58" cy="680.53" r="4.17"/><circle cx="1720.66" cy="681.94" r="4.17"/><circle cx="1771.08" cy="681.28" r="4.17"/><circle cx="1714.99" cy="680.82" r="4.17"/><circle cx="1766.33" cy="682.11" r="4.17"/><circle cx="1687.07" cy="680.34" r="4.17"/><circle cx="1700.45" cy="679.42" r="4.17"/><circle cx="1745.23" cy="679.32" r="4.17"/><circle cx="1663.63" cy="679.32" r="4.17"/><circle cx="1666.42" cy="681.92" r="4.17"/><circle cx="1770.93" cy="680.1" r="4.17"/><circle cx="1666.07" cy="679.65" r="4.17"/><circle cx="1689.88" cy="680.75" r="4.17"/><circle cx="1770.35" cy="679.56" r="4.17"/><circle cx="1736.34" cy="681.9" r="4.17"/><circle cx="1740.91" cy="681.52" r="4.17"/><circle cx="1737.39" cy="677.21" r="4.17"/><circle cx="1741.18" cy="678.31" r="4.17"/><circle cx="1777.11" cy="676.55" r="4.17"/><circle cx="1698.96" cy="677.52" r="4.17"/><circle cx="1693.91" cy="678.14" r="4.17"/><circle cx="1737.71" cy="675.82" r="4.17"/><circle cx="1726.6" cy="676.58" r="4.17"/><circle cx="1677.53" cy="678.55" r="4.17"/><circle cx="1656.5" cy="676.06" r="4.17"/><circle cx="1713.3" cy="677.82" r="4.17"/><circle cx="1642.28" cy="676.13" r="4.17"/><circle cx="1668.34" cy="677.42" r="4.17"/><circle cx="1744.25" cy="673.49" r="4.17"/><circle cx="1642.26" cy="674.98" r="4.17"/><circle cx="1749.3" cy="675.63" r="4.17"/><circle cx="1716.13" cy="672.64" r="4.17"/><circle cx="1717.56" cy="673.39" r="4.17"/><circle cx="1678.75" cy="674.46" r="4.17"/><circle cx="1672.68" cy="675.07" r="4.17"/><circle cx="1661.71" cy="673.45" r="4.17"/><circle cx="1643.62" cy="674.17" r="4.17"/><circle cx="1736.54" cy="672.93" r="4.17"/><circle cx="1663.23" cy="673.54" r="4.17"/><circle cx="1725.56" cy="672.67" r="4.17"/><circle cx="1699.17" cy="672.83" r="4.17"/><circle cx="1678.46" cy="672.54" r="4.17"/><circle cx="1732.05" cy="675.43" r="4.17"/><circle cx="1684.02" cy="673.27" r="4.17"/><circle cx="1756.88" cy="671.21" r="4.17"/><circle cx="1733.87" cy="669.66" r="4.17"/><circle cx="1762.04" cy="670.15" r="4.17"/><circle cx="1642.59" cy="672.41" r="4.17"/><circle cx="1672.4" cy="670.01" r="4.17"/><circle cx="1683.64" cy="672.24" r="4.17"/><circle cx="1672.8" cy="669.92" r="4.17"/><circle cx="1705.08" cy="672.45" r="4.17"/><circle cx="1677.76" cy="672.18" r="4.17"/><circle cx="1652.51" cy="669.81" r="4.17"/><circle cx="1672.55" cy="670.85" r="4.17"/><circle cx="1729.61" cy="667.31" r="4.17"/><circle cx="1691.61" cy="665.97" r="4.17"/><circle cx="1667.45" cy="668.05" r="4.17"/><circle cx="1716.51" cy="666.04" r="4.17"/><circle cx="1750.49" cy="665.9" r="4.17"/><circle cx="1660.43" cy="666.73" r="4.17"/><circle cx="1694.24" cy="667.76" r="4.17"/><circle cx="1718.13" cy="669.02" r="4.17"/><circle cx="1663.63" cy="668.82" r="4.17"/><circle cx="1665.9" cy="668.43" r="4.17"/><circle cx="1745.51" cy="668.38" r="4.17"/><circle cx="1687.16" cy="667.48" r="4.17"/><circle cx="1727.14" cy="666.83" r="4.17"/><circle cx="1663.5" cy="668.29" r="4.17"/><circle cx="1696.98" cy="667.62" r="4.17"/><circle cx="1732.33" cy="669.1" r="4.17"/><circle cx="1764.07" cy="667.09" r="4.17"/><circle cx="1697.98" cy="665.4" r="4.17"/><circle cx="1704.4" cy="664.08" r="4.17"/><circle cx="1692.9" cy="662.59" r="4.17"/><circle cx="1745.33" cy="662.78" r="4.17"/><circle cx="1693.35" cy="664.85" r="4.17"/><circle cx="1721.59" cy="665.35" r="4.17"/><circle cx="1687.34" cy="665.63" r="4.17"/><circle cx="1721.9" cy="660.16" r="4.17"/><circle cx="1779.73" cy="660.22" r="4.17"/><circle cx="1684.3" cy="659.76" r="4.17"/><circle cx="1676.24" cy="656.41" r="4.17"/><circle cx="1702.11" cy="656.14" r="4.17"/><circle cx="1694.34" cy="659.08" r="4.17"/><circle cx="1722.61" cy="657.93" r="4.17"/><circle cx="1714.79" cy="658.63" r="4.17"/><circle cx="1717.64" cy="658.48" r="4.17"/><circle cx="1725.21" cy="656.01" r="4.17"/><circle cx="1726.69" cy="657.73" r="4.17"/><circle cx="1704.01" cy="658.33" r="4.17"/><circle cx="1685.54" cy="656.6" r="4.17"/><circle cx="1666.81" cy="653.56" r="4.17"/><circle cx="1712.22" cy="653.52" r="4.17"/><circle cx="1700.5" cy="655.47" r="4.17"/><circle cx="1704.48" cy="654.92" r="4.17"/><circle cx="1754.33" cy="649.63" r="4.17"/><circle cx="1679.31" cy="650.11" r="4.17"/><circle cx="1699" cy="649.6" r="4.17"/><circle cx="1767.39" cy="650.01" r="4.17"/><circle cx="1693.03" cy="649.28" r="4.17"/><circle cx="1732.65" cy="647.1" r="4.17"/><circle cx="1704.44" cy="647.73" r="4.17"/><circle cx="1646.26" cy="645.03" r="4.17"/><circle cx="1732.59" cy="640.1" r="4.17"/><circle cx="1654.42" cy="639.85" r="4.17"/><circle cx="1696.61" cy="638.54" r="4.17"/><circle cx="1757.95" cy="636.22" r="4.17"/><circle cx="1756.92" cy="637.35" r="4.17"/>
</g>
<path d="M1229.5 527.5V880.5M1330.5 527.5V880.5M1432.5 527.5V880.5M1533.5 527.5V880.5M1634.5 527.5V880.5M1735.5 527.5V880.5M1836.5 527.5V880.5M1128.5 615.5H1937.5M1128.5 703.5H1937.5M1128.5 792.5H1937.5" stroke="#0000ff" stroke-width="1.11" fill="none"/>
<path d="M1128.5 880.5v4.86M1229.5 880.5v4.86M1330.5 880.5v4.86M1432.5 880.5v4.86M1533.5 880.5v4.86M1634.5 880.5v4.86M1735.5 880.5v4.86M1836.5 880.5v4.86M1937.5 880.5v4.86M1128.5 527.5h-4.86M1128.5 615.5h-4.86M1128.5 703.5h-4.86M1128.5 792.5h-4.86M1128.5 880.5h-4.86" stroke="#000" stroke-width="1.11" fill="none"/>
<rect x="1128.5" y="527.5" width="809.0" height="353.0" fill="none" stroke="#000" stroke-width="1.11" stroke-linejoin="miter"/>
<rect x="1894.5" y="543.5" width="27" height="27" rx="5" ry="5" fill="#fff" fill-opacity="0.8" stroke="#ccc" stroke-opacity="0.8" stroke-width="1.39"/>
<text transform="translate(208.19 79.00) scale(0.9227 1)" font-size="35.30" xml:space="preserve">Y_EUCLID</text>
<text transform="translate(378.17 79.00) scale(1.1528 1)" font-size="35.30" xml:space="preserve">--&gt;</text>
<text transform="translate(441.82 79.00) scale(1.0113 1)" font-size="35.30" xml:space="preserve">y_ComCam</text>
<text transform="translate(209.82 236.00) scale(1.0059 1)" font-size="35.30" xml:space="preserve">y_ComCam</text>
<text transform="translate(407.16 236.00) scale(1.1563 1)" font-size="35.30" xml:space="preserve">-</text>
<text transform="translate(430.18 236.00) scale(0.9286 1)" font-size="35.30" xml:space="preserve">Y_EUCLID</text>
<text transform="translate(601.82 236.00) scale(1.0323 1)" font-size="35.30" xml:space="preserve">vs.</text>
<text transform="translate(661.42 233.20) scale(0.7483 0.89)" font-size="35.30" stroke="#000" stroke-width="0.5" xml:space="preserve">(</text>
<text transform="translate(671.61 236.00) scale(0.9138 1)" font-size="35.30" font-style="italic" xml:space="preserve">Y</text>
<text transform="translate(734.01 236.00) scale(0.9375 1)" font-size="35.30" font-style="italic" xml:space="preserve">H</text>
<text transform="translate(761.73 233.20) scale(0.7627 0.89)" font-size="35.30" stroke="#000" stroke-width="0.5" xml:space="preserve">)</text>
<text transform="translate(773.24 240.40) scale(1.0266 1)" font-size="24.71" font-style="italic" xml:space="preserve">Euclid</text>
<text transform="translate(208.55 313.70) scale(0.9915 0.91)" font-size="35.30" stroke="#000" stroke-width="0.3" xml:space="preserve">[</text>
<text transform="translate(221.53 316.00) scale(1.0762 1)" font-size="35.30" xml:space="preserve">rms:</text>
<text transform="translate(306.50 316.00) scale(1.0652 1)" font-size="35.30" xml:space="preserve">0.045</text>
<text transform="translate(404.64 313.70) scale(1.0169 0.91)" font-size="35.30" stroke="#000" stroke-width="0.3" xml:space="preserve">]</text>
<text transform="translate(209.55 391.70) scale(0.9915 0.91)" font-size="35.30" stroke="#000" stroke-width="0.3" xml:space="preserve">[</text>
<text transform="translate(221.31 394.00) scale(1.0645 1)" font-size="35.30" xml:space="preserve">-0.4</text>
<text transform="translate(297.73 394.00) scale(1.2850 1)" font-size="35.30" xml:space="preserve">&lt;</text>
<text transform="translate(337.42 391.20) scale(0.7483 0.89)" font-size="35.30" stroke="#000" stroke-width="0.5" xml:space="preserve">(</text>
<text transform="translate(347.61 394.00) scale(0.9138 1)" font-size="35.30" font-style="italic" xml:space="preserve">Y</text>
<text transform="translate(410.01 394.00) scale(0.9375 1)" font-size="35.30" font-style="italic" xml:space="preserve">H</text>
<text transform="translate(437.73 391.20) scale(0.7627 0.89)" font-size="35.30" stroke="#000" stroke-width="0.5" xml:space="preserve">)</text>
<text transform="translate(449.24 398.40) scale(1.0266 1)" font-size="24.71" font-style="italic" xml:space="preserve">Euclid</text>
<text transform="translate(624.64 391.70) scale(1.0169 0.91)" font-size="35.30" stroke="#000" stroke-width="0.3" xml:space="preserve">]</text>
<text transform="translate(530.73 394.00) scale(1.2850 1)" font-size="35.30" xml:space="preserve">&lt;</text>
<text transform="translate(569.48 394.00) scale(1.0731 1)" font-size="35.30" xml:space="preserve">0.4</text>
<text transform="translate(1115.08 430.00) scale(1.0731 1)" font-size="35.30" xml:space="preserve">0.4</text>
<text transform="translate(1216.10 430.00) scale(1.0637 1)" font-size="35.30" xml:space="preserve">0.3</text>
<text transform="translate(1318.12 430.00) scale(1.0460 1)" font-size="35.30" xml:space="preserve">0.2</text>
<text transform="translate(1419.12 430.00) scale(1.0460 1)" font-size="35.30" xml:space="preserve">0.1</text>
<text transform="translate(1507.13 430.00) scale(1.0380 1)" font-size="35.30" xml:space="preserve">0.0</text>
<text transform="translate(1608.15 430.00) scale(1.0242 1)" font-size="35.30" xml:space="preserve">0.1</text>
<text transform="translate(1709.15 430.00) scale(1.0242 1)" font-size="35.30" xml:space="preserve">0.2</text>
<text transform="translate(1810.13 430.00) scale(1.0420 1)" font-size="35.30" xml:space="preserve">0.3</text>
<text transform="translate(1911.12 430.00) scale(1.0516 1)" font-size="35.30" xml:space="preserve">0.4</text>
<text transform="translate(1115.08 916.00) scale(1.0731 1)" font-size="35.30" xml:space="preserve">0.4</text>
<text transform="translate(1216.10 916.00) scale(1.0637 1)" font-size="35.30" xml:space="preserve">0.3</text>
<text transform="translate(1318.12 916.00) scale(1.0460 1)" font-size="35.30" xml:space="preserve">0.2</text>
<text transform="translate(1419.12 916.00) scale(1.0460 1)" font-size="35.30" xml:space="preserve">0.1</text>
<text transform="translate(1507.13 916.00) scale(1.0380 1)" font-size="35.30" xml:space="preserve">0.0</text>
<text transform="translate(1608.15 916.00) scale(1.0242 1)" font-size="35.30" xml:space="preserve">0.1</text>
<text transform="translate(1709.15 916.00) scale(1.0242 1)" font-size="35.30" xml:space="preserve">0.2</text>
<text transform="translate(1810.13 916.00) scale(1.0420 1)" font-size="35.30" xml:space="preserve">0.3</text>
<text transform="translate(1911.12 916.00) scale(1.0516 1)" font-size="35.30" xml:space="preserve">0.4</text>
<text transform="translate(104.10 916.00) scale(1.0633 1)" font-size="35.30" xml:space="preserve">0.20</text>
<text transform="translate(205.10 916.00) scale(1.0633 1)" font-size="35.30" xml:space="preserve">0.15</text>
<text transform="translate(306.10 916.00) scale(1.0633 1)" font-size="35.30" xml:space="preserve">0.10</text>
<text transform="translate(407.10 916.00) scale(1.0633 1)" font-size="35.30" xml:space="preserve">0.05</text>
<text transform="translate(495.12 916.00) scale(1.0481 1)" font-size="35.30" xml:space="preserve">0.00</text>
<text transform="translate(596.12 916.00) scale(1.0481 1)" font-size="35.30" xml:space="preserve">0.05</text>
<text transform="translate(697.12 916.00) scale(1.0481 1)" font-size="35.30" xml:space="preserve">0.10</text>
<text transform="translate(798.12 916.00) scale(1.0481 1)" font-size="35.30" xml:space="preserve">0.15</text>
<text transform="translate(899.12 916.00) scale(1.0481 1)" font-size="35.30" xml:space="preserve">0.20</text>
<text transform="translate(1065.62 97.90) scale(1.0516 1)" font-size="35.30" xml:space="preserve">0.4</text>
<text transform="translate(1065.65 185.90) scale(1.0242 1)" font-size="35.30" xml:space="preserve">0.2</text>
<text transform="translate(1065.63 273.90) scale(1.0380 1)" font-size="35.30" xml:space="preserve">0.0</text>
<text transform="translate(1064.62 361.90) scale(1.0460 1)" font-size="35.30" xml:space="preserve">0.2</text>
<text transform="translate(1065.65 538.90) scale(1.0242 1)" font-size="35.30" xml:space="preserve">0.2</text>
<text transform="translate(1065.65 627.90) scale(1.0242 1)" font-size="35.30" xml:space="preserve">0.1</text>
<text transform="translate(1065.63 715.90) scale(1.0380 1)" font-size="35.30" xml:space="preserve">0.0</text>
<text transform="translate(1064.62 803.90) scale(1.0460 1)" font-size="35.30" xml:space="preserve">0.1</text>
<text transform="translate(1064.62 892.40) scale(1.0460 1)" font-size="35.30" xml:space="preserve">0.2</text>
<text transform="translate(75.67 611.90) scale(1.0127 1)" font-size="35.30" xml:space="preserve">30</text>
<text transform="translate(75.30 705.90) scale(1.0226 1)" font-size="35.30" xml:space="preserve">20</text>
<text transform="translate(75.40 798.90) scale(1.0198 1)" font-size="35.30" xml:space="preserve">10</text>
<text transform="translate(96.67 892.40) scale(1.0139 1)" font-size="35.30" xml:space="preserve">0</text>
<text transform="translate(1441.62 467.20) scale(0.7483 0.89)" font-size="35.30" stroke="#000" stroke-width="0.5" xml:space="preserve">(</text>
<text transform="translate(1451.81 470.00) scale(0.9138 1)" font-size="35.30" font-style="italic" xml:space="preserve">Y</text>
<text transform="translate(1514.21 470.00) scale(0.9375 1)" font-size="35.30" font-style="italic" xml:space="preserve">H</text>
<text transform="translate(1541.93 467.20) scale(0.7627 0.89)" font-size="35.30" stroke="#000" stroke-width="0.5" xml:space="preserve">)</text>
<text transform="translate(1552.43 474.40) scale(1.0415 1)" font-size="24.71" font-style="italic" xml:space="preserve">Euclid</text>
<text transform="translate(1441.62 953.20) scale(0.7483 0.89)" font-size="35.30" stroke="#000" stroke-width="0.5" xml:space="preserve">(</text>
<text transform="translate(1451.81 956.00) scale(0.9138 1)" font-size="35.30" font-style="italic" xml:space="preserve">Y</text>
<text transform="translate(1514.21 956.00) scale(0.9375 1)" font-size="35.30" font-style="italic" xml:space="preserve">H</text>
<text transform="translate(1541.93 953.20) scale(0.7627 0.89)" font-size="35.30" stroke="#000" stroke-width="0.5" xml:space="preserve">)</text>
<text transform="translate(1552.43 960.40) scale(1.0415 1)" font-size="24.71" font-style="italic" xml:space="preserve">Euclid</text>
<text transform="translate(401.88 954.30) scale(1.0532 1)" font-size="35.30" xml:space="preserve">residuals</text>
<text transform="translate(561.85 952.00) scale(0.9915 0.91)" font-size="35.30" stroke="#000" stroke-width="0.3" xml:space="preserve">[</text>
<text transform="translate(574.83 954.30) scale(1.0770 1)" font-size="35.30" xml:space="preserve">mag</text>
<text transform="translate(650.89 952.00) scale(1.1622 0.91)" font-size="35.30" stroke="#000" stroke-width="0.3" xml:space="preserve">]</text>
<text transform="translate(1251.40 97.10) scale(1.0285 1)" font-size="35.30" xml:space="preserve">Data</text>
<text transform="translate(1251.15 146.20) scale(1.0460 1)" font-size="35.30" xml:space="preserve">Bin</text>
<text transform="translate(1315.16 146.20) scale(1.0410 1)" font-size="35.30" xml:space="preserve">Median</text>
<text transform="translate(1023.20 409.18) rotate(-90) scale(1.0059 1)" font-size="35.30" xml:space="preserve">y_ComCam</text>
<text transform="translate(1023.20 210.65) rotate(-90) scale(1.0406 1)" font-size="35.30" xml:space="preserve">-</text>
<text transform="translate(1023.20 187.81) rotate(-90) scale(0.9227 1)" font-size="35.30" xml:space="preserve">Y_EUCLID</text>
<text transform="translate(64.40 773.98) rotate(-90) scale(1.0562 1)" font-size="35.30" xml:space="preserve">Number</text>
<text transform="translate(1026.60 785.84) rotate(-90) scale(1.0072 1)" font-size="35.30" xml:space="preserve">Residuals</text>
<path d="M703.50 224.00H724.40V227.00H703.50ZM379.50 382.00H400.40V385.00H379.50ZM1091.10 418.00H1112.00V421.00H1091.10ZM1192.10 418.00H1213.00V421.00H1192.10ZM1294.10 418.00H1315.00V421.00H1294.10ZM1395.10 418.00H1416.00V421.00H1395.10ZM1091.10 904.00H1112.00V907.00H1091.10ZM1192.10 904.00H1213.00V907.00H1192.10ZM1294.10 904.00H1315.00V907.00H1294.10ZM1395.10 904.00H1416.00V907.00H1395.10ZM80.10 904.00H101.00V907.00H80.10ZM181.10 904.00H202.00V907.00H181.10ZM282.10 904.00H303.00V907.00H282.10ZM383.10 904.00H404.00V907.00H383.10ZM1040.60 349.90H1061.50V352.90H1040.60ZM1040.60 791.90H1061.50V794.90H1040.60ZM1040.60 880.40H1061.50V883.40H1040.60ZM1482.70 458.00H1503.60V461.00H1482.70ZM1482.70 944.00H1503.60V947.00H1482.70Z" fill="#000"/>
</svg></body></html>
